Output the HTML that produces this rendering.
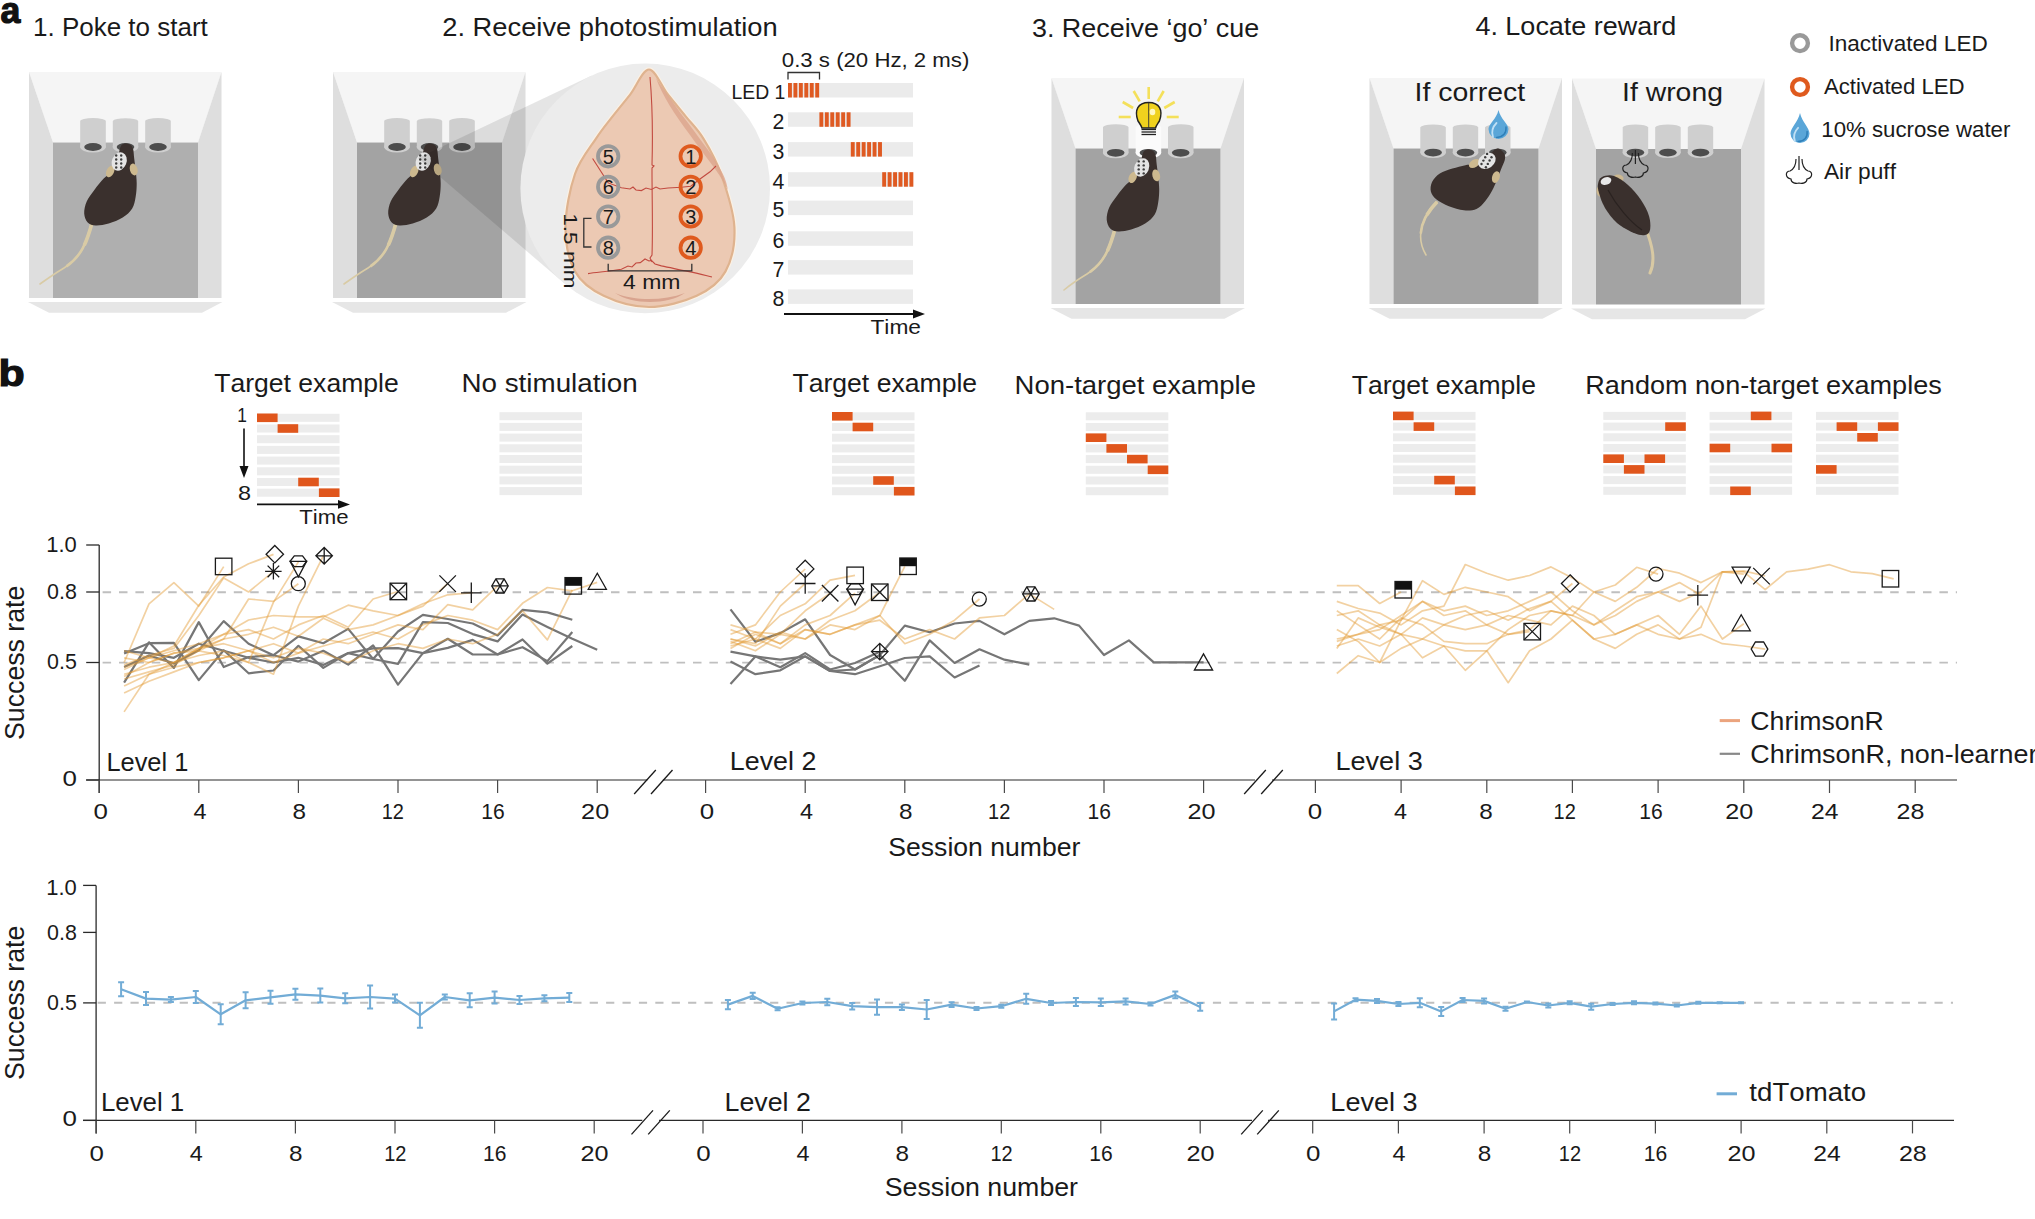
<!DOCTYPE html>
<html><head><meta charset="utf-8"><style>
html,body{margin:0;padding:0;background:#fff;overflow:hidden}
svg{display:block;font-family:"Liberation Sans",sans-serif;font-kerning:none}
</style></head><body>
<svg width="2035" height="1219" viewBox="0 0 2035 1219">
<rect width="2035" height="1219" fill="#fff"/>
<text x="0.46" y="22.60" font-size="36.00" font-weight="bold" fill="#111" textLength="19.82" lengthAdjust="spacingAndGlyphs" stroke="#111" stroke-width="1.2">a</text>
<text x="33.02" y="36.20" font-size="26.70" fill="#1a1a1a" textLength="174.77" lengthAdjust="spacingAndGlyphs">1. Poke to start</text>
<text x="442.23" y="35.50" font-size="26.70" fill="#1a1a1a" textLength="335.55" lengthAdjust="spacingAndGlyphs">2. Receive photostimulation</text>
<text x="1031.98" y="36.80" font-size="26.70" fill="#1a1a1a" textLength="227.22" lengthAdjust="spacingAndGlyphs">3. Receive ‘go’ cue</text>
<text x="1475.38" y="34.90" font-size="26.70" fill="#1a1a1a" textLength="200.96" lengthAdjust="spacingAndGlyphs">4. Locate reward</text>
<polygon points="29.0,72.0 221.5,72.0 198.0,142.5 53.0,142.5" fill="#f5f5f5"/>
<polygon points="29.0,72.0 53.0,142.5 53.0,298.0 29.0,298.0" fill="#dedede"/>
<polygon points="221.5,72.0 198.0,142.5 198.0,298.0 221.5,298.0" fill="#dedede"/>
<rect x="53.0" y="142.5" width="145.0" height="155.5" fill="#afafaf"/>
<polygon points="28.0,302.0 222.5,302.0 202.0,312.7 49.0,312.7" fill="#e6e6e6"/>
<path d="M80.2 121.0 L80.2 147.0 A12.8 3 0 0 0 105.8 147.0 L105.8 121.0 A12.8 3 0 0 0 80.2 121.0 Z" fill="#cfcfcf"/>
<ellipse cx="93.0" cy="147.0" rx="12.8" ry="5.5" fill="#cfcfcf"/>
<ellipse cx="93.0" cy="147.0" rx="8.8" ry="3.9" fill="#4d4d4d"/>
<path d="M112.8 121.0 L112.8 147.0 A12.8 3 0 0 0 138.2 147.0 L138.2 121.0 A12.8 3 0 0 0 112.8 121.0 Z" fill="#cfcfcf"/>
<ellipse cx="125.5" cy="147.0" rx="12.8" ry="5.5" fill="#cfcfcf"/>
<ellipse cx="125.5" cy="147.0" rx="8.8" ry="3.9" fill="#4d4d4d"/>
<path d="M145.2 121.0 L145.2 147.0 A12.8 3 0 0 0 170.8 147.0 L170.8 121.0 A12.8 3 0 0 0 145.2 121.0 Z" fill="#cfcfcf"/>
<ellipse cx="158.0" cy="147.0" rx="12.8" ry="5.5" fill="#cfcfcf"/>
<ellipse cx="158.0" cy="147.0" rx="8.8" ry="3.9" fill="#4d4d4d"/>
<path d="M92 223 C86 245 80 258 64 268 C54 274 47 279 40 284" fill="none" stroke="#d9cba5" stroke-width="1.6" stroke-linecap="round"/>
<path d="M92 223 C86 245 80 258 64 268 C54 274 47 279 40 284" fill="none" stroke="#d9cba5" stroke-width="2.6" pathLength="100" stroke-dasharray="62 200"/>
<path d="M92 223 C86 245 80 258 64 268 C54 274 47 279 40 284" fill="none" stroke="#d9cba5" stroke-width="3.6" pathLength="100" stroke-dasharray="28 200"/>
<path d="M125.70 143.50 C127.20 143.50 129.45 144.00 130.70 145.00 C131.95 146.00 132.62 147.25 133.20 149.50 C133.78 151.75 133.78 155.00 134.20 158.50 C134.62 162.00 135.28 166.33 135.70 170.50 C136.12 174.67 136.70 179.17 136.70 183.50 C136.70 187.83 136.45 192.33 135.70 196.50 C134.95 200.67 134.37 205.00 132.20 208.50 C130.03 212.00 126.62 215.00 122.70 217.50 C118.78 220.00 113.20 222.17 108.70 223.50 C104.20 224.83 99.20 225.67 95.70 225.50 C92.20 225.33 89.62 224.50 87.70 222.50 C85.78 220.50 84.37 217.00 84.20 213.50 C84.03 210.00 84.95 205.50 86.70 201.50 C88.45 197.50 91.87 193.33 94.70 189.50 C97.53 185.67 100.70 181.67 103.70 178.50 C106.70 175.33 110.37 173.83 112.70 170.50 C115.03 167.17 116.53 162.00 117.70 158.50 C118.87 155.00 119.03 151.75 119.70 149.50 C120.37 147.25 120.70 146.00 121.70 145.00 C122.70 144.00 124.20 143.50 125.70 143.50 Z" fill="#3a302d"/>
<ellipse cx="110.2" cy="171.5" rx="3.8" ry="6" fill="#cdb98f" transform="rotate(25.0 110.2 171.5)"/>
<ellipse cx="133.7" cy="169.5" rx="3.8" ry="6" fill="#cdb98f" transform="rotate(-15.0 133.7 169.5)"/>
<ellipse cx="119.2" cy="161.5" rx="7.3" ry="9.5" fill="#e4e4e4" transform="rotate(22.0 119.2 161.5)"/>
<circle cx="116.2" cy="155.5" r="1.2" fill="#3d3d3d"/>
<circle cx="121.2" cy="155.5" r="1.2" fill="#3d3d3d"/>
<circle cx="116.2" cy="159.5" r="1.2" fill="#3d3d3d"/>
<circle cx="121.2" cy="159.5" r="1.2" fill="#3d3d3d"/>
<circle cx="116.2" cy="163.5" r="1.2" fill="#3d3d3d"/>
<circle cx="121.2" cy="163.5" r="1.2" fill="#3d3d3d"/>
<circle cx="116.2" cy="167.5" r="1.2" fill="#3d3d3d"/>
<circle cx="121.2" cy="167.5" r="1.2" fill="#3d3d3d"/>
<polygon points="333.0,72.0 525.5,72.0 502.0,142.5 357.0,142.5" fill="#f5f5f5"/>
<polygon points="333.0,72.0 357.0,142.5 357.0,298.0 333.0,298.0" fill="#dedede"/>
<polygon points="525.5,72.0 502.0,142.5 502.0,298.0 525.5,298.0" fill="#dedede"/>
<rect x="357.0" y="142.5" width="145.0" height="155.5" fill="#a3a3a3"/>
<polygon points="332.0,302.0 526.5,302.0 506.0,312.7 353.0,312.7" fill="#e6e6e6"/>
<path d="M384.2 121.0 L384.2 147.0 A12.8 3 0 0 0 409.8 147.0 L409.8 121.0 A12.8 3 0 0 0 384.2 121.0 Z" fill="#cfcfcf"/>
<ellipse cx="397.0" cy="147.0" rx="12.8" ry="5.5" fill="#cfcfcf"/>
<ellipse cx="397.0" cy="147.0" rx="8.8" ry="3.9" fill="#4d4d4d"/>
<path d="M416.8 121.0 L416.8 147.0 A12.8 3 0 0 0 442.2 147.0 L442.2 121.0 A12.8 3 0 0 0 416.8 121.0 Z" fill="#cfcfcf"/>
<ellipse cx="429.5" cy="147.0" rx="12.8" ry="5.5" fill="#cfcfcf"/>
<ellipse cx="429.5" cy="147.0" rx="8.8" ry="3.9" fill="#4d4d4d"/>
<path d="M449.2 121.0 L449.2 147.0 A12.8 3 0 0 0 474.8 147.0 L474.8 121.0 A12.8 3 0 0 0 449.2 121.0 Z" fill="#cfcfcf"/>
<ellipse cx="462.0" cy="147.0" rx="12.8" ry="5.5" fill="#cfcfcf"/>
<ellipse cx="462.0" cy="147.0" rx="8.8" ry="3.9" fill="#4d4d4d"/>
<path d="M396 223 C390 245 384 258 368 268 C358 274 351 279 344 284" fill="none" stroke="#d9cba5" stroke-width="1.6" stroke-linecap="round"/>
<path d="M396 223 C390 245 384 258 368 268 C358 274 351 279 344 284" fill="none" stroke="#d9cba5" stroke-width="2.6" pathLength="100" stroke-dasharray="62 200"/>
<path d="M396 223 C390 245 384 258 368 268 C358 274 351 279 344 284" fill="none" stroke="#d9cba5" stroke-width="3.6" pathLength="100" stroke-dasharray="28 200"/>
<path d="M429.70 143.50 C431.20 143.50 433.45 144.00 434.70 145.00 C435.95 146.00 436.62 147.25 437.20 149.50 C437.78 151.75 437.78 155.00 438.20 158.50 C438.62 162.00 439.28 166.33 439.70 170.50 C440.12 174.67 440.70 179.17 440.70 183.50 C440.70 187.83 440.45 192.33 439.70 196.50 C438.95 200.67 438.37 205.00 436.20 208.50 C434.03 212.00 430.62 215.00 426.70 217.50 C422.78 220.00 417.20 222.17 412.70 223.50 C408.20 224.83 403.20 225.67 399.70 225.50 C396.20 225.33 393.62 224.50 391.70 222.50 C389.78 220.50 388.37 217.00 388.20 213.50 C388.03 210.00 388.95 205.50 390.70 201.50 C392.45 197.50 395.87 193.33 398.70 189.50 C401.53 185.67 404.70 181.67 407.70 178.50 C410.70 175.33 414.37 173.83 416.70 170.50 C419.03 167.17 420.53 162.00 421.70 158.50 C422.87 155.00 423.03 151.75 423.70 149.50 C424.37 147.25 424.70 146.00 425.70 145.00 C426.70 144.00 428.20 143.50 429.70 143.50 Z" fill="#3a302d"/>
<ellipse cx="414.2" cy="171.5" rx="3.8" ry="6" fill="#cdb98f" transform="rotate(25.0 414.2 171.5)"/>
<ellipse cx="437.7" cy="169.5" rx="3.8" ry="6" fill="#cdb98f" transform="rotate(-15.0 437.7 169.5)"/>
<ellipse cx="423.2" cy="161.5" rx="7.3" ry="9.5" fill="#e4e4e4" transform="rotate(22.0 423.2 161.5)"/>
<circle cx="420.2" cy="155.5" r="1.2" fill="#3d3d3d"/>
<circle cx="425.2" cy="155.5" r="1.2" fill="#3d3d3d"/>
<circle cx="420.2" cy="159.5" r="1.2" fill="#3d3d3d"/>
<circle cx="425.2" cy="159.5" r="1.2" fill="#3d3d3d"/>
<circle cx="420.2" cy="163.5" r="1.2" fill="#3d3d3d"/>
<circle cx="425.2" cy="163.5" r="1.2" fill="#3d3d3d"/>
<circle cx="420.2" cy="167.5" r="1.2" fill="#3d3d3d"/>
<circle cx="425.2" cy="167.5" r="1.2" fill="#3d3d3d"/>
<polygon points="1051.5,78.0 1244.0,78.0 1220.5,148.5 1075.5,148.5" fill="#f5f5f5"/>
<polygon points="1051.5,78.0 1075.5,148.5 1075.5,304.0 1051.5,304.0" fill="#dedede"/>
<polygon points="1244.0,78.0 1220.5,148.5 1220.5,304.0 1244.0,304.0" fill="#dedede"/>
<rect x="1075.5" y="148.5" width="145.0" height="155.5" fill="#a3a3a3"/>
<polygon points="1050.5,308.0 1245.0,308.0 1224.5,318.7 1071.5,318.7" fill="#e6e6e6"/>
<path d="M1103.0 127.0 L1103.0 152.8 A12.8 3 0 0 0 1128.5 152.8 L1128.5 127.0 A12.8 3 0 0 0 1103.0 127.0 Z" fill="#cfcfcf"/>
<ellipse cx="1115.7" cy="152.8" rx="12.8" ry="5.5" fill="#cfcfcf"/>
<ellipse cx="1115.7" cy="152.8" rx="8.8" ry="3.9" fill="#4d4d4d"/>
<path d="M1135.7 127.0 L1135.7 152.8 A12.8 3 0 0 0 1161.2 152.8 L1161.2 127.0 A12.8 3 0 0 0 1135.7 127.0 Z" fill="#fbfbfb"/>
<ellipse cx="1148.4" cy="152.8" rx="12.8" ry="5.5" fill="#fbfbfb"/>
<ellipse cx="1148.4" cy="152.8" rx="8.8" ry="3.9" fill="#4d4d4d"/>
<path d="M1168.0 127.0 L1168.0 152.8 A12.8 3 0 0 0 1193.5 152.8 L1193.5 127.0 A12.8 3 0 0 0 1168.0 127.0 Z" fill="#cfcfcf"/>
<ellipse cx="1180.7" cy="152.8" rx="12.8" ry="5.5" fill="#cfcfcf"/>
<ellipse cx="1180.7" cy="152.8" rx="8.8" ry="3.9" fill="#4d4d4d"/>
<path d="M1115 229 C1109 251 1103 264 1087 274 C1077 280 1070 285 1064 290" fill="none" stroke="#d9cba5" stroke-width="1.6" stroke-linecap="round"/>
<path d="M1115 229 C1109 251 1103 264 1087 274 C1077 280 1070 285 1064 290" fill="none" stroke="#d9cba5" stroke-width="2.6" pathLength="100" stroke-dasharray="62 200"/>
<path d="M1115 229 C1109 251 1103 264 1087 274 C1077 280 1070 285 1064 290" fill="none" stroke="#d9cba5" stroke-width="3.6" pathLength="100" stroke-dasharray="28 200"/>
<path d="M1148.20 149.40 C1149.70 149.40 1151.95 149.90 1153.20 150.90 C1154.45 151.90 1155.12 153.15 1155.70 155.40 C1156.28 157.65 1156.28 160.90 1156.70 164.40 C1157.12 167.90 1157.78 172.23 1158.20 176.40 C1158.62 180.57 1159.20 185.07 1159.20 189.40 C1159.20 193.73 1158.95 198.23 1158.20 202.40 C1157.45 206.57 1156.87 210.90 1154.70 214.40 C1152.53 217.90 1149.12 220.90 1145.20 223.40 C1141.28 225.90 1135.70 228.07 1131.20 229.40 C1126.70 230.73 1121.70 231.57 1118.20 231.40 C1114.70 231.23 1112.12 230.40 1110.20 228.40 C1108.28 226.40 1106.87 222.90 1106.70 219.40 C1106.53 215.90 1107.45 211.40 1109.20 207.40 C1110.95 203.40 1114.37 199.23 1117.20 195.40 C1120.03 191.57 1123.20 187.57 1126.20 184.40 C1129.20 181.23 1132.87 179.73 1135.20 176.40 C1137.53 173.07 1139.03 167.90 1140.20 164.40 C1141.37 160.90 1141.53 157.65 1142.20 155.40 C1142.87 153.15 1143.20 151.90 1144.20 150.90 C1145.20 149.90 1146.70 149.40 1148.20 149.40 Z" fill="#3a302d"/>
<ellipse cx="1132.7" cy="177.4" rx="3.8" ry="6" fill="#cdb98f" transform="rotate(25.0 1132.7 177.4)"/>
<ellipse cx="1156.2" cy="175.4" rx="3.8" ry="6" fill="#cdb98f" transform="rotate(-15.0 1156.2 175.4)"/>
<ellipse cx="1141.7" cy="167.4" rx="7.3" ry="9.5" fill="#e4e4e4" transform="rotate(22.0 1141.7 167.4)"/>
<circle cx="1138.7" cy="161.4" r="1.2" fill="#3d3d3d"/>
<circle cx="1143.7" cy="161.4" r="1.2" fill="#3d3d3d"/>
<circle cx="1138.7" cy="165.4" r="1.2" fill="#3d3d3d"/>
<circle cx="1143.7" cy="165.4" r="1.2" fill="#3d3d3d"/>
<circle cx="1138.7" cy="169.4" r="1.2" fill="#3d3d3d"/>
<circle cx="1143.7" cy="169.4" r="1.2" fill="#3d3d3d"/>
<circle cx="1138.7" cy="173.4" r="1.2" fill="#3d3d3d"/>
<circle cx="1143.7" cy="173.4" r="1.2" fill="#3d3d3d"/>
<polygon points="1369.5,78.0 1562.0,78.0 1538.5,148.5 1393.5,148.5" fill="#f5f5f5"/>
<polygon points="1369.5,78.0 1393.5,148.5 1393.5,304.0 1369.5,304.0" fill="#dedede"/>
<polygon points="1562.0,78.0 1538.5,148.5 1538.5,304.0 1562.0,304.0" fill="#dedede"/>
<rect x="1393.5" y="148.5" width="145.0" height="155.5" fill="#a3a3a3"/>
<polygon points="1368.5,308.0 1563.0,308.0 1542.5,318.7 1389.5,318.7" fill="#e6e6e6"/>
<path d="M1420.3 127.2 L1420.3 152.6 A12.8 3 0 0 0 1445.8 152.6 L1445.8 127.2 A12.8 3 0 0 0 1420.3 127.2 Z" fill="#cfcfcf"/>
<ellipse cx="1433.1" cy="152.6" rx="12.8" ry="5.5" fill="#cfcfcf"/>
<ellipse cx="1433.1" cy="152.6" rx="8.8" ry="3.9" fill="#4d4d4d"/>
<path d="M1452.8 127.2 L1452.8 152.6 A12.8 3 0 0 0 1478.2 152.6 L1478.2 127.2 A12.8 3 0 0 0 1452.8 127.2 Z" fill="#cfcfcf"/>
<ellipse cx="1465.5" cy="152.6" rx="12.8" ry="5.5" fill="#cfcfcf"/>
<ellipse cx="1465.5" cy="152.6" rx="8.8" ry="3.9" fill="#4d4d4d"/>
<path d="M1485.0 127.2 L1485.0 152.6 A12.8 3 0 0 0 1510.5 152.6 L1510.5 127.2 A12.8 3 0 0 0 1485.0 127.2 Z" fill="#cfcfcf"/>
<ellipse cx="1497.8" cy="152.6" rx="12.8" ry="5.5" fill="#cfcfcf"/>
<ellipse cx="1497.8" cy="152.6" rx="8.8" ry="3.9" fill="#4d4d4d"/>
<path d="M1437 202 C1424 215 1414 235 1426 255" fill="none" stroke="#d9cba5" stroke-width="1.6" stroke-linecap="round"/>
<path d="M1437 202 C1424 215 1414 235 1426 255" fill="none" stroke="#d9cba5" stroke-width="2.6" pathLength="100" stroke-dasharray="62 200"/>
<path d="M1437 202 C1424 215 1414 235 1426 255" fill="none" stroke="#d9cba5" stroke-width="3.6" pathLength="100" stroke-dasharray="28 200"/>
<path d="M1501.00 150.00 C1502.32 150.98 1504.06 152.86 1504.69 154.52 C1505.32 156.18 1505.33 157.66 1504.79 159.94 C1504.26 162.21 1502.75 164.95 1501.48 168.17 C1500.22 171.38 1498.79 175.47 1497.22 179.25 C1495.65 183.03 1494.07 187.19 1492.05 190.84 C1490.04 194.49 1487.73 198.12 1485.13 201.14 C1482.54 204.15 1480.01 207.42 1476.48 208.96 C1472.95 210.49 1468.56 210.79 1463.96 210.34 C1459.36 209.90 1453.46 208.08 1448.89 206.27 C1444.32 204.46 1439.55 201.91 1436.55 199.49 C1433.56 197.07 1431.68 194.68 1430.93 191.75 C1430.18 188.82 1430.56 184.95 1432.04 181.89 C1433.52 178.84 1436.42 175.64 1439.82 173.42 C1443.21 171.19 1448.15 169.91 1452.41 168.53 C1456.68 167.15 1461.32 165.84 1465.42 165.13 C1469.53 164.42 1473.44 165.55 1477.04 164.26 C1480.64 162.97 1484.36 159.60 1487.01 157.42 C1489.66 155.23 1491.32 152.60 1492.95 151.14 C1494.58 149.68 1495.45 148.85 1496.79 148.66 C1498.14 148.47 1499.68 149.02 1501.00 150.00 Z" fill="#3a302d"/>
<ellipse cx="1474.4" cy="163.5" rx="3.8" ry="6" fill="#cdb98f" transform="rotate(58.0 1474.4 163.5)"/>
<ellipse cx="1495.9" cy="177.1" rx="3.8" ry="6" fill="#cdb98f" transform="rotate(18.0 1495.9 177.1)"/>
<ellipse cx="1486.9" cy="160.9" rx="7.3" ry="9.5" fill="#e4e4e4" transform="rotate(55.0 1486.9 160.9)"/>
<circle cx="1487.1" cy="153.9" r="1.2" fill="#3d3d3d"/>
<circle cx="1491.5" cy="157.2" r="1.2" fill="#3d3d3d"/>
<circle cx="1485.2" cy="157.3" r="1.2" fill="#3d3d3d"/>
<circle cx="1489.6" cy="160.5" r="1.2" fill="#3d3d3d"/>
<circle cx="1483.4" cy="160.6" r="1.2" fill="#3d3d3d"/>
<circle cx="1487.8" cy="163.9" r="1.2" fill="#3d3d3d"/>
<circle cx="1481.5" cy="164.0" r="1.2" fill="#3d3d3d"/>
<circle cx="1485.9" cy="167.3" r="1.2" fill="#3d3d3d"/>
<polygon points="1572.0,78.5 1764.5,78.5 1741.0,149.0 1596.0,149.0" fill="#f5f5f5"/>
<polygon points="1572.0,78.5 1596.0,149.0 1596.0,304.5 1572.0,304.5" fill="#dedede"/>
<polygon points="1764.5,78.5 1741.0,149.0 1741.0,304.5 1764.5,304.5" fill="#dedede"/>
<rect x="1596.0" y="149.0" width="145.0" height="155.5" fill="#a3a3a3"/>
<polygon points="1571.0,308.5 1765.5,308.5 1745.0,319.2 1592.0,319.2" fill="#e6e6e6"/>
<path d="M1622.7 127.2 L1622.7 152.6 A12.8 3 0 0 0 1648.2 152.6 L1648.2 127.2 A12.8 3 0 0 0 1622.7 127.2 Z" fill="#cfcfcf"/>
<ellipse cx="1635.4" cy="152.6" rx="12.8" ry="5.5" fill="#cfcfcf"/>
<ellipse cx="1635.4" cy="152.6" rx="8.8" ry="3.9" fill="#4d4d4d"/>
<path d="M1655.2 127.2 L1655.2 152.6 A12.8 3 0 0 0 1680.7 152.6 L1680.7 127.2 A12.8 3 0 0 0 1655.2 127.2 Z" fill="#cfcfcf"/>
<ellipse cx="1667.9" cy="152.6" rx="12.8" ry="5.5" fill="#cfcfcf"/>
<ellipse cx="1667.9" cy="152.6" rx="8.8" ry="3.9" fill="#4d4d4d"/>
<path d="M1687.8 127.2 L1687.8 152.6 A12.8 3 0 0 0 1713.2 152.6 L1713.2 127.2 A12.8 3 0 0 0 1687.8 127.2 Z" fill="#cfcfcf"/>
<ellipse cx="1700.5" cy="152.6" rx="12.8" ry="5.5" fill="#cfcfcf"/>
<ellipse cx="1700.5" cy="152.6" rx="8.8" ry="3.9" fill="#4d4d4d"/>
<path d="M1646 229 C1652 245 1656 260 1650 273" fill="none" stroke="#d8c9a3" stroke-width="3" stroke-linecap="round"/>
<ellipse cx="1600.5" cy="191" rx="4" ry="5.5" fill="#cdb88f"/><ellipse cx="1618" cy="178.5" rx="5.5" ry="4" fill="#cdb88f"/>
<path d="M1602.00 177.00 C1604.67 175.67 1609.67 174.67 1614.00 176.00 C1618.33 177.33 1623.50 181.00 1628.00 185.00 C1632.50 189.00 1637.50 194.83 1641.00 200.00 C1644.50 205.17 1647.50 211.00 1649.00 216.00 C1650.50 221.00 1650.67 226.83 1650.00 230.00 C1649.33 233.17 1647.67 234.50 1645.00 235.00 C1642.33 235.50 1638.67 235.00 1634.00 233.00 C1629.33 231.00 1621.83 227.17 1617.00 223.00 C1612.17 218.83 1608.00 213.00 1605.00 208.00 C1602.00 203.00 1600.17 197.00 1599.00 193.00 C1597.83 189.00 1597.50 186.67 1598.00 184.00 C1598.50 181.33 1599.33 178.33 1602.00 177.00 Z" fill="#3a302d"/>
<path d="M1608 190 C1616 205 1630 222 1642 230" fill="none" stroke="#2a2220" stroke-width="1.2"/>
<ellipse cx="1606" cy="181" rx="5.5" ry="3.8" fill="#e8e8e8" transform="rotate(-20 1606 181)"/>
<polygon points="418.0,158.0 591.7,75.6 564.0,283.1" fill="#000" fill-opacity="0.1"/>
<circle cx="645.2" cy="188.4" r="124.8" fill="#ececec"/>
<path d="M649.00 69.50 C642.77 69.50 636.37 86.48 630.30 94.30 C624.23 102.12 618.32 109.02 612.60 116.40 C606.88 123.78 602.27 129.00 596.00 138.60 C589.73 148.20 580.08 159.27 575.00 174.00 C569.92 188.73 565.50 210.77 565.50 227.00 C565.50 243.23 568.63 259.93 575.00 271.40 C581.37 282.87 591.37 289.87 603.70 295.80 C616.03 301.73 633.50 307.00 649.00 307.00 C664.50 307.00 683.95 301.73 696.70 295.80 C709.45 289.87 719.22 282.87 725.50 271.40 C731.78 259.93 735.15 243.23 734.40 227.00 C733.65 210.77 726.17 188.73 721.00 174.00 C715.83 159.27 709.28 148.20 703.40 138.60 C697.52 129.00 691.65 123.78 685.70 116.40 C679.75 109.02 673.82 102.12 667.70 94.30 C661.58 86.48 655.23 69.50 649.00 69.50 Z" fill="#ecc9b3" stroke="#fbf1e4" stroke-width="4.5"/>
<path d="M649.00 69.50 C642.77 69.50 636.37 86.48 630.30 94.30 C624.23 102.12 618.32 109.02 612.60 116.40 C606.88 123.78 602.27 129.00 596.00 138.60 C589.73 148.20 580.08 159.27 575.00 174.00 C569.92 188.73 565.50 210.77 565.50 227.00 C565.50 243.23 568.63 259.93 575.00 271.40 C581.37 282.87 591.37 289.87 603.70 295.80 C616.03 301.73 633.50 307.00 649.00 307.00 C664.50 307.00 683.95 301.73 696.70 295.80 C709.45 289.87 719.22 282.87 725.50 271.40 C731.78 259.93 735.15 243.23 734.40 227.00 C733.65 210.77 726.17 188.73 721.00 174.00 C715.83 159.27 709.28 148.20 703.40 138.60 C697.52 129.00 691.65 123.78 685.70 116.40 C679.75 109.02 673.82 102.12 667.70 94.30 C661.58 86.48 655.23 69.50 649.00 69.50 Z" fill="#ecc9b3" stroke="#dfb38f" stroke-width="2.2"/>
<path d="M656 78 C670 100 690 125 708 150 C722 170 726 178 728 190 C718 170 700 150 690 135 C675 115 662 95 656 78 Z" fill="#dca58c" opacity="0.8"/>
<path d="M615 293 C635 301 663 301 685 293 C668 305 632 305 615 293 Z" fill="#d9a48f"/>
<path d="M650 77 C652 100 653 130 652 165 L654 166 L652 168 C652 200 653 230 652 255 L650 258 L652 262" fill="none" stroke="#c24a40" stroke-width="1.1"/>
<polyline points="592.6,158.5 600,170 608.2,182.9 621.4,187.7 630,189 633,187 636,190 641.4,190.6 646,188 651.4,189.5 656,187 660,189 668,188 681.2,187.3 690.7,186.2 700,179 710,171.8 716,166" fill="none" stroke="#c24a40" stroke-width="1.1"/>
<path d="M588 273.6 C600 272 612 271 621.4 269.2 L628 266 L632 267 L636 263 L640.3 262.6 L645 259 L649 261 L651.4 260.4 L655 264 L661.4 265.9 C672 268 680 270 687.9 271.4 C697 273 704 275 712 277" fill="none" stroke="#c24a40" stroke-width="1.1"/>
<circle cx="608.2" cy="156.3" r="10.2" fill="none" stroke="#999" stroke-width="3.8"/>
<circle cx="690.7" cy="156.3" r="10.2" fill="none" stroke="#df5a1e" stroke-width="3.8"/>
<text x="608.2" y="163.5" font-size="20" text-anchor="middle" fill="#1a1a1a">5</text>
<text x="690.7" y="163.5" font-size="20" text-anchor="middle" fill="#1a1a1a">1</text>
<circle cx="608.2" cy="186.8" r="10.2" fill="none" stroke="#999" stroke-width="3.8"/>
<circle cx="690.7" cy="186.8" r="10.2" fill="none" stroke="#df5a1e" stroke-width="3.8"/>
<text x="608.2" y="194.0" font-size="20" text-anchor="middle" fill="#1a1a1a">6</text>
<text x="690.7" y="194.0" font-size="20" text-anchor="middle" fill="#1a1a1a">2</text>
<circle cx="608.2" cy="216.5" r="10.2" fill="none" stroke="#999" stroke-width="3.8"/>
<circle cx="690.7" cy="216.5" r="10.2" fill="none" stroke="#df5a1e" stroke-width="3.8"/>
<text x="608.2" y="223.7" font-size="20" text-anchor="middle" fill="#1a1a1a">7</text>
<text x="690.7" y="223.7" font-size="20" text-anchor="middle" fill="#1a1a1a">3</text>
<circle cx="608.2" cy="247.7" r="10.2" fill="none" stroke="#999" stroke-width="3.8"/>
<circle cx="690.7" cy="247.7" r="10.2" fill="none" stroke="#df5a1e" stroke-width="3.8"/>
<text x="608.2" y="254.9" font-size="20" text-anchor="middle" fill="#1a1a1a">8</text>
<text x="690.7" y="254.9" font-size="20" text-anchor="middle" fill="#1a1a1a">4</text>
<path d="M591.5 218.3 H583.8 V247 H591.5" fill="none" stroke="#333" stroke-width="1.3"/>
<g transform="translate(564 215) rotate(90)"><text x="-1.72" y="0.00" font-size="19.00" fill="#1a1a1a" textLength="75.21" lengthAdjust="spacingAndGlyphs">1.5 mm</text></g>
<path d="M608.2 263.7 V270.8 H691.8 V263.7" fill="none" stroke="#333" stroke-width="1.3"/>
<text x="623.07" y="288.50" font-size="20.00" fill="#1a1a1a" textLength="57.44" lengthAdjust="spacingAndGlyphs">4 mm</text>
<text x="781.83" y="67.00" font-size="21.00" fill="#1a1a1a" textLength="187.54" lengthAdjust="spacingAndGlyphs">0.3 s (20 Hz, 2 ms)</text>
<path d="M788 79.5 V72.5 H819.5 V79.5" fill="none" stroke="#333" stroke-width="1.3"/>
<text x="731.41" y="98.60" font-size="21.00" fill="#1a1a1a" textLength="53.94" lengthAdjust="spacingAndGlyphs">LED 1</text>
<rect x="788" y="83.0" width="125" height="14.5" fill="#ebebeb"/>
<rect x="788.00" y="83.0" width="3.9" height="14.5" fill="#df5a22"/>
<rect x="793.45" y="83.0" width="3.9" height="14.5" fill="#df5a22"/>
<rect x="798.90" y="83.0" width="3.9" height="14.5" fill="#df5a22"/>
<rect x="804.35" y="83.0" width="3.9" height="14.5" fill="#df5a22"/>
<rect x="809.80" y="83.0" width="3.9" height="14.5" fill="#df5a22"/>
<rect x="815.25" y="83.0" width="3.9" height="14.5" fill="#df5a22"/>
<rect x="788" y="112.3" width="125" height="14.5" fill="#ebebeb"/>
<text x="784.4" y="128.9" font-size="21.3" text-anchor="end" fill="#1a1a1a">2</text>
<rect x="819.40" y="112.3" width="3.9" height="14.5" fill="#df5a22"/>
<rect x="824.85" y="112.3" width="3.9" height="14.5" fill="#df5a22"/>
<rect x="830.30" y="112.3" width="3.9" height="14.5" fill="#df5a22"/>
<rect x="835.75" y="112.3" width="3.9" height="14.5" fill="#df5a22"/>
<rect x="841.20" y="112.3" width="3.9" height="14.5" fill="#df5a22"/>
<rect x="846.65" y="112.3" width="3.9" height="14.5" fill="#df5a22"/>
<rect x="788" y="142.1" width="125" height="14.5" fill="#ebebeb"/>
<text x="784.4" y="158.6" font-size="21.3" text-anchor="end" fill="#1a1a1a">3</text>
<rect x="850.80" y="142.1" width="3.9" height="14.5" fill="#df5a22"/>
<rect x="856.25" y="142.1" width="3.9" height="14.5" fill="#df5a22"/>
<rect x="861.70" y="142.1" width="3.9" height="14.5" fill="#df5a22"/>
<rect x="867.15" y="142.1" width="3.9" height="14.5" fill="#df5a22"/>
<rect x="872.60" y="142.1" width="3.9" height="14.5" fill="#df5a22"/>
<rect x="878.05" y="142.1" width="3.9" height="14.5" fill="#df5a22"/>
<rect x="788" y="172.2" width="125" height="14.5" fill="#ebebeb"/>
<text x="784.4" y="188.7" font-size="21.3" text-anchor="end" fill="#1a1a1a">4</text>
<rect x="882.20" y="172.2" width="3.9" height="14.5" fill="#df5a22"/>
<rect x="887.65" y="172.2" width="3.9" height="14.5" fill="#df5a22"/>
<rect x="893.10" y="172.2" width="3.9" height="14.5" fill="#df5a22"/>
<rect x="898.55" y="172.2" width="3.9" height="14.5" fill="#df5a22"/>
<rect x="904.00" y="172.2" width="3.9" height="14.5" fill="#df5a22"/>
<rect x="909.45" y="172.2" width="3.9" height="14.5" fill="#df5a22"/>
<rect x="788" y="200.6" width="125" height="14.5" fill="#ebebeb"/>
<text x="784.4" y="217.1" font-size="21.3" text-anchor="end" fill="#1a1a1a">5</text>
<rect x="788" y="231.3" width="125" height="14.5" fill="#ebebeb"/>
<text x="784.4" y="247.9" font-size="21.3" text-anchor="end" fill="#1a1a1a">6</text>
<rect x="788" y="260.1" width="125" height="14.5" fill="#ebebeb"/>
<text x="784.4" y="276.6" font-size="21.3" text-anchor="end" fill="#1a1a1a">7</text>
<rect x="788" y="289.4" width="125" height="14.5" fill="#ebebeb"/>
<text x="784.4" y="306.0" font-size="21.3" text-anchor="end" fill="#1a1a1a">8</text>
<path d="M784 314 H917" stroke="#111" stroke-width="2"/>
<path d="M925 314 L913 309.5 L913 318.5 Z" fill="#111"/>
<text x="870.49" y="334.00" font-size="21.00" fill="#1a1a1a" textLength="50.52" lengthAdjust="spacingAndGlyphs">Time</text>
<line x1="1148.7" y1="99.0" x2="1148.7" y2="87.0" stroke="#f4e05a" stroke-width="2.6"/>
<line x1="1157.7" y1="101.4" x2="1163.7" y2="91.0" stroke="#f4e05a" stroke-width="2.6"/>
<line x1="1164.3" y1="108.0" x2="1174.7" y2="102.0" stroke="#f4e05a" stroke-width="2.6"/>
<line x1="1166.7" y1="117.0" x2="1178.7" y2="117.0" stroke="#f4e05a" stroke-width="2.6"/>
<line x1="1130.7" y1="117.0" x2="1118.7" y2="117.0" stroke="#f4e05a" stroke-width="2.6"/>
<line x1="1133.1" y1="108.0" x2="1122.7" y2="102.0" stroke="#f4e05a" stroke-width="2.6"/>
<line x1="1139.7" y1="101.4" x2="1133.7" y2="91.0" stroke="#f4e05a" stroke-width="2.6"/>
<path d="M1138 121 C1134 110 1138 102.5 1148.7 102.5 C1159.4 102.5 1163.4 110 1159.4 121 C1157.5 124 1156 126 1155.5 128 H1142 C1141.5 126 1140 124 1138 121 Z" fill="#f0d21e" stroke="#222" stroke-width="1.5"/>
<path d="M1148.7 103 V128" stroke="#333" stroke-width="0.9"/>
<ellipse cx="1152.5" cy="112" rx="2.8" ry="3.3" fill="#fff8c0"/>
<line x1="1141.5" y1="129.5" x2="1156" y2="129.5" stroke="#222" stroke-width="1.3"/>
<line x1="1141.5" y1="132.0" x2="1156" y2="132.0" stroke="#222" stroke-width="1.3"/>
<line x1="1141.5" y1="134.5" x2="1156" y2="134.5" stroke="#222" stroke-width="1.3"/>
<path d="M1498.5 110.0 C1496.5 118.7 1488.5 124.5 1488.5 129.0 A10.0 10.0 0 0 0 1508.5 129.0 C1508.5 124.5 1500.5 118.7 1498.5 110.0 Z" fill="#5aa6d8"/>
<path d="M1493.0 137.0 C1491.0 131.0 1493.5 126.0 1496.5 123.0" fill="none" stroke="#bfe0f5" stroke-width="1.8" stroke-linecap="round"/>
<path d="M1496.5 137.5 C1503.5 137.0 1506.5 133.0 1506.0 127.0" fill="none" stroke="#2f7fb8" stroke-width="1.5" stroke-linecap="round"/>
<path d="M1635.4 150.0 V164.0 M1632.4 153.0 C1632.4 160.0 1630.4 163.0 1626.4 165.0 M1638.4 153.0 C1638.4 160.0 1640.4 163.0 1644.4 165.0 M1626.4 165.0 C1621.4 165.0 1621.4 172.0 1627.4 173.0 C1627.4 177.0 1632.4 178.0 1635.4 177.0 C1638.4 178.0 1643.4 177.0 1643.4 173.0 C1649.4 172.0 1649.4 165.0 1644.4 165.0" fill="none" stroke="#222" stroke-width="1.2"/>
<circle cx="1800" cy="43.2" r="7.9" fill="none" stroke="#999" stroke-width="4.4"/>
<text x="1828.42" y="51.00" font-size="21.50" fill="#1a1a1a" textLength="159.36" lengthAdjust="spacingAndGlyphs">Inactivated LED</text>
<circle cx="1800" cy="87" r="7.9" fill="none" stroke="#df5a1e" stroke-width="4.4"/>
<text x="1823.96" y="94.00" font-size="21.50" fill="#1a1a1a" textLength="140.71" lengthAdjust="spacingAndGlyphs">Activated LED</text>
<path d="M1800.0 113.0 C1798.0 122.0 1790.5 128.0 1790.5 133.5 A9.5 9.5 0 0 0 1809.5 133.5 C1809.5 128.0 1802.0 122.0 1800.0 113.0 Z" fill="#5aa6d8"/>
<path d="M1794.8 141.1 C1792.9 135.4 1795.2 130.7 1798.1 127.8" fill="none" stroke="#bfe0f5" stroke-width="1.8" stroke-linecap="round"/>
<path d="M1798.1 141.6 C1804.8 141.1 1807.6 137.3 1807.1 131.6" fill="none" stroke="#2f7fb8" stroke-width="1.5" stroke-linecap="round"/>
<text x="1821.31" y="136.70" font-size="21.50" fill="#1a1a1a" textLength="189.06" lengthAdjust="spacingAndGlyphs">10% sucrose water</text>
<path d="M1799.0 156.0 V170.0 M1796.0 159.0 C1796.0 166.0 1794.0 169.0 1790.0 171.0 M1802.0 159.0 C1802.0 166.0 1804.0 169.0 1808.0 171.0 M1790.0 171.0 C1785.0 171.0 1785.0 178.0 1791.0 179.0 C1791.0 183.0 1796.0 184.0 1799.0 183.0 C1802.0 184.0 1807.0 183.0 1807.0 179.0 C1813.0 178.0 1813.0 171.0 1808.0 171.0" fill="none" stroke="#222" stroke-width="1.2"/>
<text x="1823.96" y="178.50" font-size="21.50" fill="#1a1a1a" textLength="72.01" lengthAdjust="spacingAndGlyphs">Air puff</text>
<text x="1414.58" y="100.50" font-size="25.70" fill="#1a1a1a" textLength="110.63" lengthAdjust="spacingAndGlyphs">If correct</text>
<text x="1622.08" y="100.50" font-size="25.70" fill="#1a1a1a" textLength="100.84" lengthAdjust="spacingAndGlyphs">If wrong</text>
<text x="-1.63" y="385.60" font-size="37.00" font-weight="bold" fill="#111" textLength="26.18" lengthAdjust="spacingAndGlyphs" stroke="#111" stroke-width="1.2">b</text>
<text x="214.20" y="391.80" font-size="26.00" fill="#1a1a1a" textLength="184.58" lengthAdjust="spacingAndGlyphs">Target example</text>
<text x="461.42" y="391.80" font-size="26.00" fill="#1a1a1a" textLength="176.19" lengthAdjust="spacingAndGlyphs">No stimulation</text>
<text x="792.40" y="392.00" font-size="26.00" fill="#1a1a1a" textLength="184.78" lengthAdjust="spacingAndGlyphs">Target example</text>
<text x="1014.54" y="393.80" font-size="26.00" fill="#1a1a1a" textLength="241.48" lengthAdjust="spacingAndGlyphs">Non-target example</text>
<text x="1351.80" y="393.50" font-size="26.00" fill="#1a1a1a" textLength="184.17" lengthAdjust="spacingAndGlyphs">Target example</text>
<text x="1585.28" y="393.50" font-size="26.00" fill="#1a1a1a" textLength="356.50" lengthAdjust="spacingAndGlyphs">Random non-target examples</text>
<rect x="257.0" y="413.8" width="82.5" height="8.0" fill="#ececec"/>
<rect x="257.0" y="424.5" width="82.5" height="8.0" fill="#ececec"/>
<rect x="257.0" y="435.2" width="82.5" height="8.0" fill="#ececec"/>
<rect x="257.0" y="445.9" width="82.5" height="8.0" fill="#ececec"/>
<rect x="257.0" y="456.6" width="82.5" height="8.0" fill="#ececec"/>
<rect x="257.0" y="467.3" width="82.5" height="8.0" fill="#ececec"/>
<rect x="257.0" y="478.0" width="82.5" height="8.0" fill="#ececec"/>
<rect x="257.0" y="488.7" width="82.5" height="8.0" fill="#ececec"/>
<rect x="257.0" y="413.5" width="20.6" height="8.6" fill="#e0561c"/>
<rect x="277.6" y="424.2" width="20.6" height="8.6" fill="#e0561c"/>
<rect x="298.2" y="477.7" width="20.6" height="8.6" fill="#e0561c"/>
<rect x="318.9" y="488.4" width="20.6" height="8.6" fill="#e0561c"/>
<text x="237.17" y="421.80" font-size="21.00" fill="#1a1a1a" textLength="9.67" lengthAdjust="spacingAndGlyphs">1</text>
<text x="237.98" y="500.00" font-size="21.00" fill="#1a1a1a" textLength="13.04" lengthAdjust="spacingAndGlyphs">8</text>
<path d="M244 428.5 V470" stroke="#111" stroke-width="1.6"/><path d="M244 478 L239.5 466 H248.5 Z" fill="#111"/>
<path d="M257 504.4 H342" stroke="#111" stroke-width="1.6"/><path d="M350 504.4 L338 500 V508.8 Z" fill="#111"/>
<text x="299.20" y="523.70" font-size="21.00" fill="#1a1a1a" textLength="49.28" lengthAdjust="spacingAndGlyphs">Time</text>
<rect x="499.5" y="412.2" width="82.5" height="8.0" fill="#ececec"/>
<rect x="499.5" y="422.9" width="82.5" height="8.0" fill="#ececec"/>
<rect x="499.5" y="433.6" width="82.5" height="8.0" fill="#ececec"/>
<rect x="499.5" y="444.3" width="82.5" height="8.0" fill="#ececec"/>
<rect x="499.5" y="455.0" width="82.5" height="8.0" fill="#ececec"/>
<rect x="499.5" y="465.7" width="82.5" height="8.0" fill="#ececec"/>
<rect x="499.5" y="476.4" width="82.5" height="8.0" fill="#ececec"/>
<rect x="499.5" y="487.1" width="82.5" height="8.0" fill="#ececec"/>
<rect x="832.0" y="412.3" width="82.5" height="8.0" fill="#ececec"/>
<rect x="832.0" y="423.0" width="82.5" height="8.0" fill="#ececec"/>
<rect x="832.0" y="433.7" width="82.5" height="8.0" fill="#ececec"/>
<rect x="832.0" y="444.4" width="82.5" height="8.0" fill="#ececec"/>
<rect x="832.0" y="455.1" width="82.5" height="8.0" fill="#ececec"/>
<rect x="832.0" y="465.8" width="82.5" height="8.0" fill="#ececec"/>
<rect x="832.0" y="476.5" width="82.5" height="8.0" fill="#ececec"/>
<rect x="832.0" y="487.2" width="82.5" height="8.0" fill="#ececec"/>
<rect x="832.0" y="412.0" width="20.6" height="8.6" fill="#e0561c"/>
<rect x="852.6" y="422.7" width="20.6" height="8.6" fill="#e0561c"/>
<rect x="873.2" y="476.2" width="20.6" height="8.6" fill="#e0561c"/>
<rect x="893.9" y="486.9" width="20.6" height="8.6" fill="#e0561c"/>
<rect x="1085.8" y="412.3" width="82.5" height="8.0" fill="#ececec"/>
<rect x="1085.8" y="423.0" width="82.5" height="8.0" fill="#ececec"/>
<rect x="1085.8" y="433.7" width="82.5" height="8.0" fill="#ececec"/>
<rect x="1085.8" y="444.4" width="82.5" height="8.0" fill="#ececec"/>
<rect x="1085.8" y="455.1" width="82.5" height="8.0" fill="#ececec"/>
<rect x="1085.8" y="465.8" width="82.5" height="8.0" fill="#ececec"/>
<rect x="1085.8" y="476.5" width="82.5" height="8.0" fill="#ececec"/>
<rect x="1085.8" y="487.2" width="82.5" height="8.0" fill="#ececec"/>
<rect x="1085.8" y="433.4" width="20.6" height="8.6" fill="#e0561c"/>
<rect x="1106.4" y="444.1" width="20.6" height="8.6" fill="#e0561c"/>
<rect x="1127.0" y="454.8" width="20.6" height="8.6" fill="#e0561c"/>
<rect x="1147.7" y="465.5" width="20.6" height="8.6" fill="#e0561c"/>
<rect x="1393.0" y="411.9" width="82.5" height="8.0" fill="#ececec"/>
<rect x="1393.0" y="422.6" width="82.5" height="8.0" fill="#ececec"/>
<rect x="1393.0" y="433.3" width="82.5" height="8.0" fill="#ececec"/>
<rect x="1393.0" y="444.0" width="82.5" height="8.0" fill="#ececec"/>
<rect x="1393.0" y="454.7" width="82.5" height="8.0" fill="#ececec"/>
<rect x="1393.0" y="465.4" width="82.5" height="8.0" fill="#ececec"/>
<rect x="1393.0" y="476.1" width="82.5" height="8.0" fill="#ececec"/>
<rect x="1393.0" y="486.8" width="82.5" height="8.0" fill="#ececec"/>
<rect x="1393.0" y="411.6" width="20.6" height="8.6" fill="#e0561c"/>
<rect x="1413.6" y="422.3" width="20.6" height="8.6" fill="#e0561c"/>
<rect x="1434.2" y="475.8" width="20.6" height="8.6" fill="#e0561c"/>
<rect x="1454.9" y="486.5" width="20.6" height="8.6" fill="#e0561c"/>
<rect x="1603.3" y="411.9" width="82.5" height="8.0" fill="#ececec"/>
<rect x="1603.3" y="422.6" width="82.5" height="8.0" fill="#ececec"/>
<rect x="1603.3" y="433.3" width="82.5" height="8.0" fill="#ececec"/>
<rect x="1603.3" y="444.0" width="82.5" height="8.0" fill="#ececec"/>
<rect x="1603.3" y="454.7" width="82.5" height="8.0" fill="#ececec"/>
<rect x="1603.3" y="465.4" width="82.5" height="8.0" fill="#ececec"/>
<rect x="1603.3" y="476.1" width="82.5" height="8.0" fill="#ececec"/>
<rect x="1603.3" y="486.8" width="82.5" height="8.0" fill="#ececec"/>
<rect x="1665.2" y="422.3" width="20.6" height="8.6" fill="#e0561c"/>
<rect x="1603.3" y="454.4" width="20.6" height="8.6" fill="#e0561c"/>
<rect x="1644.5" y="454.4" width="20.6" height="8.6" fill="#e0561c"/>
<rect x="1623.9" y="465.1" width="20.6" height="8.6" fill="#e0561c"/>
<rect x="1709.6" y="411.9" width="82.5" height="8.0" fill="#ececec"/>
<rect x="1709.6" y="422.6" width="82.5" height="8.0" fill="#ececec"/>
<rect x="1709.6" y="433.3" width="82.5" height="8.0" fill="#ececec"/>
<rect x="1709.6" y="444.0" width="82.5" height="8.0" fill="#ececec"/>
<rect x="1709.6" y="454.7" width="82.5" height="8.0" fill="#ececec"/>
<rect x="1709.6" y="465.4" width="82.5" height="8.0" fill="#ececec"/>
<rect x="1709.6" y="476.1" width="82.5" height="8.0" fill="#ececec"/>
<rect x="1709.6" y="486.8" width="82.5" height="8.0" fill="#ececec"/>
<rect x="1750.8" y="411.6" width="20.6" height="8.6" fill="#e0561c"/>
<rect x="1709.6" y="443.7" width="20.6" height="8.6" fill="#e0561c"/>
<rect x="1771.5" y="443.7" width="20.6" height="8.6" fill="#e0561c"/>
<rect x="1730.2" y="486.5" width="20.6" height="8.6" fill="#e0561c"/>
<rect x="1816.0" y="411.9" width="82.5" height="8.0" fill="#ececec"/>
<rect x="1816.0" y="422.6" width="82.5" height="8.0" fill="#ececec"/>
<rect x="1816.0" y="433.3" width="82.5" height="8.0" fill="#ececec"/>
<rect x="1816.0" y="444.0" width="82.5" height="8.0" fill="#ececec"/>
<rect x="1816.0" y="454.7" width="82.5" height="8.0" fill="#ececec"/>
<rect x="1816.0" y="465.4" width="82.5" height="8.0" fill="#ececec"/>
<rect x="1816.0" y="476.1" width="82.5" height="8.0" fill="#ececec"/>
<rect x="1816.0" y="486.8" width="82.5" height="8.0" fill="#ececec"/>
<rect x="1836.6" y="422.3" width="20.6" height="8.6" fill="#e0561c"/>
<rect x="1877.9" y="422.3" width="20.6" height="8.6" fill="#e0561c"/>
<rect x="1857.2" y="433.0" width="20.6" height="8.6" fill="#e0561c"/>
<rect x="1816.0" y="465.1" width="20.6" height="8.6" fill="#e0561c"/>
<path d="M102.6 592.2 H1957.0" stroke="#bfbfbf" stroke-width="1.9" stroke-dasharray="8.5 7.9"/>
<path d="M102.6 662.6 H1957.0" stroke="#bfbfbf" stroke-width="1.9" stroke-dasharray="8.5 7.9"/>
<path d="M99.2 545.0 V793.0" stroke="#2a2a2a" stroke-width="1.3"/>
<path d="M86.2 545.0 H99.2" stroke="#2a2a2a" stroke-width="1.3"/>
<text x="46.23" y="551.80" font-size="22.00" fill="#1a1a1a" textLength="30.53" lengthAdjust="spacingAndGlyphs">1.0</text>
<path d="M86.2 592.0 H99.2" stroke="#2a2a2a" stroke-width="1.3"/>
<text x="47.06" y="598.50" font-size="22.00" fill="#1a1a1a" textLength="29.77" lengthAdjust="spacingAndGlyphs">0.8</text>
<path d="M86.2 662.5 H99.2" stroke="#2a2a2a" stroke-width="1.3"/>
<text x="47.06" y="668.50" font-size="22.00" fill="#1a1a1a" textLength="29.73" lengthAdjust="spacingAndGlyphs">0.5</text>
<path d="M86.2 780.0 H99.2" stroke="#2a2a2a" stroke-width="1.3"/>
<text x="62.49" y="785.70" font-size="22.00" fill="#1a1a1a" textLength="14.43" lengthAdjust="spacingAndGlyphs">0</text>
<path d="M86.0 780.0 H647.3" stroke="#2a2a2a" stroke-width="1.2"/>
<path d="M662.8 780.0 H1255.0" stroke="#2a2a2a" stroke-width="1.2"/>
<path d="M1272.0 780.0 H1957.0" stroke="#2a2a2a" stroke-width="1.2"/>
<path d="M634.2 794.0 L655.8 770.0" stroke="#1a1a1a" stroke-width="1.3"/>
<path d="M651.0 794.0 L672.5 770.0" stroke="#1a1a1a" stroke-width="1.3"/>
<path d="M1244.2 794.0 L1265.8 770.0" stroke="#1a1a1a" stroke-width="1.3"/>
<path d="M1261.2 794.0 L1282.8 770.0" stroke="#1a1a1a" stroke-width="1.3"/>
<path d="M99.2 780.0 V793.0" stroke="#4a4a4a" stroke-width="1.2"/>
<text x="93.49" y="818.70" font-size="22.00" fill="#1a1a1a" textLength="14.43" lengthAdjust="spacingAndGlyphs">0</text>
<path d="M198.8 780.0 V793.0" stroke="#4a4a4a" stroke-width="1.2"/>
<text x="193.56" y="818.70" font-size="22.00" fill="#1a1a1a" textLength="13.02" lengthAdjust="spacingAndGlyphs">4</text>
<path d="M298.4 780.0 V793.0" stroke="#4a4a4a" stroke-width="1.2"/>
<text x="292.64" y="818.70" font-size="22.00" fill="#1a1a1a" textLength="13.51" lengthAdjust="spacingAndGlyphs">8</text>
<path d="M398.0 780.0 V793.0" stroke="#4a4a4a" stroke-width="1.2"/>
<text x="381.68" y="818.70" font-size="22.00" fill="#1a1a1a" textLength="22.23" lengthAdjust="spacingAndGlyphs">12</text>
<path d="M497.6 780.0 V793.0" stroke="#4a4a4a" stroke-width="1.2"/>
<text x="481.20" y="818.70" font-size="22.00" fill="#1a1a1a" textLength="23.43" lengthAdjust="spacingAndGlyphs">16</text>
<path d="M597.2 780.0 V793.0" stroke="#4a4a4a" stroke-width="1.2"/>
<text x="581.13" y="818.70" font-size="22.00" fill="#1a1a1a" textLength="28.05" lengthAdjust="spacingAndGlyphs">20</text>
<path d="M705.6 780.0 V793.0" stroke="#4a4a4a" stroke-width="1.2"/>
<text x="699.89" y="818.70" font-size="22.00" fill="#1a1a1a" textLength="14.43" lengthAdjust="spacingAndGlyphs">0</text>
<path d="M805.2 780.0 V793.0" stroke="#4a4a4a" stroke-width="1.2"/>
<text x="799.96" y="818.70" font-size="22.00" fill="#1a1a1a" textLength="13.02" lengthAdjust="spacingAndGlyphs">4</text>
<path d="M904.8 780.0 V793.0" stroke="#4a4a4a" stroke-width="1.2"/>
<text x="899.04" y="818.70" font-size="22.00" fill="#1a1a1a" textLength="13.51" lengthAdjust="spacingAndGlyphs">8</text>
<path d="M1004.4 780.0 V793.0" stroke="#4a4a4a" stroke-width="1.2"/>
<text x="988.08" y="818.70" font-size="22.00" fill="#1a1a1a" textLength="22.23" lengthAdjust="spacingAndGlyphs">12</text>
<path d="M1104.0 780.0 V793.0" stroke="#4a4a4a" stroke-width="1.2"/>
<text x="1087.60" y="818.70" font-size="22.00" fill="#1a1a1a" textLength="23.43" lengthAdjust="spacingAndGlyphs">16</text>
<path d="M1203.6 780.0 V793.0" stroke="#4a4a4a" stroke-width="1.2"/>
<text x="1187.53" y="818.70" font-size="22.00" fill="#1a1a1a" textLength="28.05" lengthAdjust="spacingAndGlyphs">20</text>
<path d="M1315.4 780.0 V793.0" stroke="#4a4a4a" stroke-width="1.2"/>
<text x="1307.89" y="818.70" font-size="22.00" fill="#1a1a1a" textLength="14.43" lengthAdjust="spacingAndGlyphs">0</text>
<path d="M1401.1 780.0 V793.0" stroke="#4a4a4a" stroke-width="1.2"/>
<text x="1394.04" y="818.70" font-size="22.00" fill="#1a1a1a" textLength="13.02" lengthAdjust="spacingAndGlyphs">4</text>
<path d="M1486.8 780.0 V793.0" stroke="#4a4a4a" stroke-width="1.2"/>
<text x="1479.20" y="818.70" font-size="22.00" fill="#1a1a1a" textLength="13.51" lengthAdjust="spacingAndGlyphs">8</text>
<path d="M1572.4 780.0 V793.0" stroke="#4a4a4a" stroke-width="1.2"/>
<text x="1553.62" y="818.70" font-size="22.00" fill="#1a1a1a" textLength="22.23" lengthAdjust="spacingAndGlyphs">12</text>
<path d="M1658.1 780.0 V793.0" stroke="#4a4a4a" stroke-width="1.2"/>
<text x="1639.22" y="818.70" font-size="22.00" fill="#1a1a1a" textLength="23.43" lengthAdjust="spacingAndGlyphs">16</text>
<path d="M1743.8 780.0 V793.0" stroke="#4a4a4a" stroke-width="1.2"/>
<text x="1725.23" y="818.70" font-size="22.00" fill="#1a1a1a" textLength="28.05" lengthAdjust="spacingAndGlyphs">20</text>
<path d="M1829.5 780.0 V793.0" stroke="#4a4a4a" stroke-width="1.2"/>
<text x="1810.94" y="818.70" font-size="22.00" fill="#1a1a1a" textLength="27.47" lengthAdjust="spacingAndGlyphs">24</text>
<path d="M1915.2 780.0 V793.0" stroke="#4a4a4a" stroke-width="1.2"/>
<text x="1896.60" y="818.70" font-size="22.00" fill="#1a1a1a" textLength="27.85" lengthAdjust="spacingAndGlyphs">28</text>
<g transform="translate(23.6 738.8) rotate(-90)"><text x="-1.21" y="0.00" font-size="27.00" fill="#1a1a1a" textLength="154.40" lengthAdjust="spacingAndGlyphs">Success rate</text></g>
<text x="106.42" y="770.90" font-size="26.00" fill="#1a1a1a" textLength="81.92" lengthAdjust="spacingAndGlyphs">Level 1</text>
<text x="729.80" y="770.00" font-size="26.00" fill="#1a1a1a" textLength="86.55" lengthAdjust="spacingAndGlyphs">Level 2</text>
<text x="1335.48" y="770.40" font-size="26.00" fill="#1a1a1a" textLength="87.31" lengthAdjust="spacingAndGlyphs">Level 3</text>
<text x="888.29" y="856.00" font-size="26.00" fill="#1a1a1a" textLength="192.15" lengthAdjust="spacingAndGlyphs">Session number</text>
<path d="M1719.7 720.6 H1740" stroke="#eba47e" stroke-width="3"/>
<text x="1750.34" y="729.70" font-size="26.00" fill="#1a1a1a" textLength="133.49" lengthAdjust="spacingAndGlyphs">ChrimsonR</text>
<path d="M1719.7 753.8 H1740" stroke="#888" stroke-width="2.2"/>
<text x="1750.33" y="762.70" font-size="26.00" fill="#1a1a1a" textLength="287.11" lengthAdjust="spacingAndGlyphs">ChrimsonR, non-learner</text>
<polyline points="124.1,682.7 149.0,642.3 173.9,667.9 198.8,622.1 223.7,667.0 248.6,657.1 273.5,655.2 298.4,661.6 323.3,650.8 348.2,664.6 373.1,645.3 398.0,684.6 422.9,653.1 447.8,638.8 472.7,654.5 497.6,654.5 522.5,639.5 547.4,663.7 572.3,646.0" fill="none" stroke="#767676" stroke-width="2.20" stroke-opacity="1.00" stroke-linejoin="round"/>
<polyline points="124.1,653.6 149.0,643.2 173.9,642.8 198.8,680.1 223.7,650.3 248.6,673.3 273.5,670.5 298.4,645.8 323.3,667.9 348.2,653.1 373.1,659.0 398.0,663.9 422.9,622.1 447.8,623.0 472.7,634.1 497.6,641.4 522.5,614.6 547.4,627.0 572.3,638.8 597.2,649.8" fill="none" stroke="#767676" stroke-width="2.20" stroke-opacity="1.00" stroke-linejoin="round"/>
<polyline points="124.1,667.0 149.0,655.5 173.9,663.4 198.8,650.3 223.7,621.1 248.6,643.7 273.5,655.2 298.4,636.4 323.3,643.2 348.2,628.9 373.1,659.0 398.0,631.5 422.9,614.8 447.8,619.0 472.7,623.5 497.6,635.5 522.5,609.9 547.4,612.4 572.3,619.7" fill="none" stroke="#767676" stroke-width="2.20" stroke-opacity="1.00" stroke-linejoin="round"/>
<polyline points="124.1,651.2 149.0,653.1 173.9,657.8 198.8,643.7 223.7,650.8 248.6,657.8 273.5,662.5 298.4,657.8 323.3,664.9 348.2,653.1 373.1,648.4 398.0,648.2 422.9,653.1 447.8,647.9 472.7,639.9 497.6,654.5 522.5,647.2 547.4,661.1 572.3,632.0" fill="none" stroke="#767676" stroke-width="2.20" stroke-opacity="1.00" stroke-linejoin="round"/>
<polyline points="730.5,609.4 755.4,641.8 780.3,633.1 805.2,619.3 830.1,655.0 855.0,669.5 879.9,655.0 904.8,625.6 929.7,632.2 954.6,623.5 979.5,620.9 1004.4,634.3 1029.3,620.9 1054.2,618.3 1079.1,625.6 1104.0,655.0 1128.9,640.4 1153.8,662.3 1178.7,662.3 1203.6,662.3" fill="none" stroke="#767676" stroke-width="2.20" stroke-opacity="1.00" stroke-linejoin="round"/>
<polyline points="730.5,684.1 755.4,656.4 780.3,659.7 805.2,656.4 830.1,671.0 855.0,669.5 879.9,655.0 904.8,680.8 929.7,640.4 954.6,663.0 979.5,649.3 1004.4,659.7 1029.3,664.6" fill="none" stroke="#767676" stroke-width="2.20" stroke-opacity="1.00" stroke-linejoin="round"/>
<polyline points="730.5,661.6 755.4,674.2 780.3,670.3 805.2,656.4 830.1,671.0 855.0,674.2 879.9,666.3 904.8,658.0 929.7,656.4 954.6,677.5 979.5,665.6" fill="none" stroke="#767676" stroke-width="2.20" stroke-opacity="1.00" stroke-linejoin="round"/>
<polyline points="730.5,651.7 755.4,656.4 780.3,667.2 805.2,653.1 830.1,669.5 855.0,663.0 879.9,651.7" fill="none" stroke="#767676" stroke-width="2.20" stroke-opacity="1.00" stroke-linejoin="round"/>
<polyline points="124.1,662.5 149.0,603.8 173.9,582.6 198.8,606.1 223.7,566.6" fill="none" stroke="#e29a35" stroke-width="1.70" stroke-opacity="0.46" stroke-linejoin="round"/>
<polyline points="124.1,669.5 149.0,657.8 173.9,646.0 198.8,605.2 223.7,577.0 248.6,563.8 273.5,554.4" fill="none" stroke="#e29a35" stroke-width="1.70" stroke-opacity="0.46" stroke-linejoin="round"/>
<polyline points="124.1,664.9 149.0,655.5 173.9,648.4 198.8,615.5 223.7,577.9 248.6,592.0 273.5,571.3" fill="none" stroke="#e29a35" stroke-width="1.70" stroke-opacity="0.46" stroke-linejoin="round"/>
<polyline points="124.1,674.2 149.0,667.2 173.9,662.5 198.8,655.5 223.7,650.8 248.6,662.5 273.5,602.1 298.4,561.9" fill="none" stroke="#e29a35" stroke-width="1.70" stroke-opacity="0.46" stroke-linejoin="round"/>
<polyline points="124.1,676.6 149.0,662.5 173.9,653.1 198.8,650.8 223.7,639.0 248.6,599.0 273.5,601.4 298.4,583.8" fill="none" stroke="#e29a35" stroke-width="1.70" stroke-opacity="0.46" stroke-linejoin="round"/>
<polyline points="124.1,679.0 149.0,671.9 173.9,664.9 198.8,650.8 223.7,655.5 248.6,662.5 273.5,674.2 298.4,606.1 323.3,555.8" fill="none" stroke="#e29a35" stroke-width="1.70" stroke-opacity="0.46" stroke-linejoin="round"/>
<polyline points="124.1,667.2 149.0,657.8 173.9,650.8 198.8,643.7 223.7,634.3 248.6,629.6 273.5,639.0 298.4,624.9 323.3,615.5 348.2,627.2 373.1,599.0 398.0,591.5" fill="none" stroke="#e29a35" stroke-width="1.70" stroke-opacity="0.46" stroke-linejoin="round"/>
<polyline points="124.1,686.0 149.0,674.2 173.9,662.5 198.8,648.4 223.7,634.3 248.6,620.0 273.5,615.5 298.4,616.9 323.3,616.9 348.2,605.2 373.1,610.8 398.0,615.5 422.9,606.1 447.8,583.5" fill="none" stroke="#e29a35" stroke-width="1.70" stroke-opacity="0.46" stroke-linejoin="round"/>
<polyline points="124.1,657.8 149.0,662.5 173.9,653.1 198.8,648.4 223.7,639.0 248.6,634.3 273.5,627.2 298.4,636.2 323.3,618.3 348.2,629.6 373.1,624.9 398.0,615.5 422.9,603.8 447.8,594.8 472.7,592.7" fill="none" stroke="#e29a35" stroke-width="1.70" stroke-opacity="0.46" stroke-linejoin="round"/>
<polyline points="124.1,693.0 149.0,681.3 173.9,671.9 198.8,662.5 223.7,657.8 248.6,650.8 273.5,662.5 298.4,653.1 323.3,639.0 348.2,643.7 373.1,634.3 398.0,624.9 422.9,629.6 447.8,604.7 472.7,609.9 497.6,585.9" fill="none" stroke="#e29a35" stroke-width="1.70" stroke-opacity="0.46" stroke-linejoin="round"/>
<polyline points="124.1,650.8 149.0,657.8 173.9,662.5 198.8,648.4 223.7,643.7 248.6,650.8 273.5,657.8 298.4,648.4 323.3,653.1 348.2,662.5 373.1,650.8 398.0,643.7 422.9,648.4 447.8,639.0 472.7,643.7 497.6,634.3 522.5,610.8 547.4,639.9 572.3,589.9" fill="none" stroke="#e29a35" stroke-width="1.70" stroke-opacity="0.46" stroke-linejoin="round"/>
<polyline points="124.1,711.9 149.0,674.2 173.9,667.2 198.8,662.5 223.7,657.8 248.6,650.8 273.5,643.7 298.4,653.1 323.3,646.0 348.2,639.0 373.1,632.0 398.0,639.0 422.9,624.9 447.8,615.5 472.7,620.2 497.6,629.6 522.5,603.3 547.4,587.5 572.3,590.8 597.2,582.4" fill="none" stroke="#e29a35" stroke-width="1.70" stroke-opacity="0.46" stroke-linejoin="round"/>
<polyline points="730.5,634.3 755.4,624.9 780.3,592.0 805.2,569.0" fill="none" stroke="#e29a35" stroke-width="1.70" stroke-opacity="0.46" stroke-linejoin="round"/>
<polyline points="730.5,639.0 755.4,643.7 780.3,606.1 805.2,583.5" fill="none" stroke="#e29a35" stroke-width="1.70" stroke-opacity="0.46" stroke-linejoin="round"/>
<polyline points="730.5,643.7 755.4,632.0 780.3,634.3 805.2,610.8 830.1,593.2" fill="none" stroke="#e29a35" stroke-width="1.70" stroke-opacity="0.46" stroke-linejoin="round"/>
<polyline points="730.5,629.6 755.4,639.0 780.3,615.5 805.2,603.8 830.1,580.2 855.0,575.3" fill="none" stroke="#e29a35" stroke-width="1.70" stroke-opacity="0.46" stroke-linejoin="round"/>
<polyline points="730.5,648.4 755.4,634.3 780.3,643.7 805.2,624.9 830.1,615.5 855.0,593.2" fill="none" stroke="#e29a35" stroke-width="1.70" stroke-opacity="0.46" stroke-linejoin="round"/>
<polyline points="730.5,641.4 755.4,650.8 780.3,634.3 805.2,639.0 830.1,620.2 855.0,610.8 879.9,592.2" fill="none" stroke="#e29a35" stroke-width="1.70" stroke-opacity="0.46" stroke-linejoin="round"/>
<polyline points="730.5,646.0 755.4,639.0 780.3,648.4 805.2,629.6 830.1,634.3 855.0,624.9 879.9,615.5 904.8,566.4" fill="none" stroke="#e29a35" stroke-width="1.70" stroke-opacity="0.46" stroke-linejoin="round"/>
<polyline points="730.5,639.0 755.4,646.0 780.3,632.0 805.2,639.0 830.1,624.9 855.0,629.6 879.9,615.5 904.8,643.7 929.7,634.3 954.6,620.2 979.5,599.0" fill="none" stroke="#e29a35" stroke-width="1.70" stroke-opacity="0.46" stroke-linejoin="round"/>
<polyline points="730.5,624.9 755.4,632.0 780.3,643.7 805.2,629.6 830.1,634.3 855.0,624.9 879.9,620.2 904.8,639.0 929.7,629.6 954.6,639.0 979.5,617.9 1004.4,615.5 1029.3,593.9 1054.2,609.4" fill="none" stroke="#e29a35" stroke-width="1.70" stroke-opacity="0.46" stroke-linejoin="round"/>
<polyline points="1336.8,585.7 1358.2,585.7 1379.7,603.5 1401.1,592.0" fill="none" stroke="#e29a35" stroke-width="1.70" stroke-opacity="0.46" stroke-linejoin="round"/>
<polyline points="1336.8,610.8 1358.2,624.9 1379.7,639.0 1401.1,617.9 1422.5,624.9 1443.9,641.4 1465.3,643.7 1486.8,643.7 1508.2,634.3 1529.6,631.7" fill="none" stroke="#e29a35" stroke-width="1.70" stroke-opacity="0.46" stroke-linejoin="round"/>
<polyline points="1336.8,629.6 1358.2,641.4 1379.7,662.5 1401.1,620.2 1422.5,580.7 1443.9,594.4 1465.3,587.3 1486.8,592.0 1508.2,596.7 1529.6,610.8 1551.0,601.4 1572.4,583.5" fill="none" stroke="#e29a35" stroke-width="1.70" stroke-opacity="0.46" stroke-linejoin="round"/>
<polyline points="1336.8,673.5 1358.2,655.7 1379.7,662.5 1401.1,648.4 1422.5,639.0 1443.9,646.0 1465.3,670.3 1486.8,650.8 1508.2,629.6 1529.6,615.5 1551.0,610.8 1572.4,615.5 1593.9,592.0 1615.3,585.0 1636.7,567.3 1658.1,574.1" fill="none" stroke="#e29a35" stroke-width="1.70" stroke-opacity="0.46" stroke-linejoin="round"/>
<polyline points="1336.8,639.0 1358.2,634.3 1379.7,629.6 1401.1,615.5 1422.5,601.4 1443.9,610.8 1465.3,606.1 1486.8,615.5 1508.2,610.8 1529.6,601.4 1551.0,592.0 1572.4,610.8 1593.9,624.9 1615.3,615.5 1636.7,601.4 1658.1,592.0 1679.5,582.6 1701.0,595.3" fill="none" stroke="#e29a35" stroke-width="1.70" stroke-opacity="0.46" stroke-linejoin="round"/>
<polyline points="1336.8,648.4 1358.2,617.9 1379.7,627.2 1401.1,634.3 1422.5,657.8 1443.9,646.0 1465.3,650.8 1486.8,650.8 1508.2,682.7 1529.6,650.8 1551.0,639.0 1572.4,620.2 1593.9,639.0 1615.3,648.4 1636.7,634.3 1658.1,624.9 1679.5,639.0 1701.0,627.2 1722.4,571.8 1743.8,574.1" fill="none" stroke="#e29a35" stroke-width="1.70" stroke-opacity="0.46" stroke-linejoin="round"/>
<polyline points="1336.8,601.4 1358.2,608.5 1379.7,613.1 1401.1,624.9 1422.5,610.8 1443.9,606.1 1465.3,564.5 1486.8,573.2 1508.2,580.2 1529.6,575.5 1551.0,566.9 1572.4,577.9 1593.9,592.0 1615.3,601.4 1636.7,587.3 1658.1,568.5 1679.5,573.2 1701.0,582.6 1722.4,571.8 1743.8,570.9 1765.2,576.0" fill="none" stroke="#e29a35" stroke-width="1.70" stroke-opacity="0.46" stroke-linejoin="round"/>
<polyline points="1336.8,641.4 1358.2,634.3 1379.7,624.9 1401.1,634.3 1422.5,617.9 1443.9,624.9 1465.3,629.6 1486.8,624.9 1508.2,615.5 1529.6,620.2 1551.0,624.9 1572.4,606.1 1593.9,615.5 1615.3,634.3 1636.7,624.9 1658.1,615.5 1679.5,634.3 1701.0,606.1 1722.4,639.0 1743.8,623.7" fill="none" stroke="#e29a35" stroke-width="1.70" stroke-opacity="0.46" stroke-linejoin="round"/>
<polyline points="1336.8,646.0 1358.2,639.0 1379.7,646.0 1401.1,634.3 1422.5,639.0 1443.9,624.9 1465.3,615.5 1486.8,610.8 1508.2,620.2 1529.6,608.5 1551.0,601.4 1572.4,620.2 1593.9,639.0 1615.3,634.3 1636.7,624.9 1658.1,634.3 1679.5,639.0 1701.0,634.3 1722.4,643.7 1743.8,646.0 1765.2,649.1" fill="none" stroke="#e29a35" stroke-width="1.70" stroke-opacity="0.46" stroke-linejoin="round"/>
<polyline points="1336.8,615.5 1358.2,610.8 1379.7,624.9 1401.1,620.2 1422.5,601.4 1443.9,615.5 1465.3,610.8 1486.8,624.9 1508.2,634.3 1529.6,629.6 1551.0,610.8 1572.4,615.5 1593.9,624.9 1615.3,610.8 1636.7,596.7 1658.1,592.0 1679.5,601.4 1701.0,592.0 1722.4,571.8 1743.8,571.8 1765.2,589.6 1786.6,571.8 1808.1,569.2 1829.5,564.7 1850.9,571.8 1872.3,573.7 1893.7,578.8" fill="none" stroke="#e29a35" stroke-width="1.70" stroke-opacity="0.46" stroke-linejoin="round"/>
<rect x="215.4" y="558.2" width="16.5" height="16.5" fill="none" stroke="#1a1a1a" stroke-width="1.3"/>
<path d="M274.8 545.5 L283.5 554.2 L274.8 562.9 L266.1 554.2 Z" fill="none" stroke="#1a1a1a" stroke-width="1.3"/>
<path d="M273.4 563.1 V579.6 M265.1 571.4 H281.6 M267.6 565.6 L279.2 577.2 M279.2 565.6 L267.6 577.2" fill="none" stroke="#1a1a1a" stroke-width="1.3"/>
<polygon points="306.6,561.3 302.5,566.7 294.3,566.7 290.1,561.3 294.3,555.9 302.5,555.9" fill="none" stroke="#1a1a1a" stroke-width="1.3"/>
<path d="M290.1 561.3 H306.6 L298.4 576.8 Z" fill="none" stroke="#1a1a1a" stroke-width="1.3"/>
<circle cx="298.3" cy="583.7" r="7.0" fill="none" stroke="#1a1a1a" stroke-width="1.3"/>
<path d="M324.2 547.5 L332.4 555.8 L324.2 564.0 L315.9 555.8 Z M324.2 547.5 V564.0 M315.9 555.8 H332.4" fill="none" stroke="#1a1a1a" stroke-width="1.3"/>
<rect x="390.1" y="583.2" width="16.5" height="16.5" fill="none" stroke="#1a1a1a" stroke-width="1.3"/>
<path d="M390.1 583.2 L406.6 599.8 M406.6 583.2 L390.1 599.8" fill="none" stroke="#1a1a1a" stroke-width="1.3"/>
<path d="M439.4 575.4 L455.9 591.9 M455.9 575.4 L439.4 591.9" fill="none" stroke="#1a1a1a" stroke-width="1.3"/>
<path d="M471.3 582.5 V603.1 M461.0 592.8 H481.6" fill="none" stroke="#1a1a1a" stroke-width="1.3"/>
<polygon points="508.2,585.9 504.1,593.0 495.9,593.0 491.8,585.9 495.9,578.8 504.1,578.8" fill="none" stroke="#1a1a1a" stroke-width="1.3"/>
<path d="M495.9 578.8 L504.1 593.0 M504.1 578.8 L495.9 593.0 M491.8 585.9 H508.2" fill="none" stroke="#1a1a1a" stroke-width="1.3"/>
<rect x="565.0" y="577.6" width="16.5" height="8.2" fill="#111"/>
<rect x="565.0" y="577.6" width="16.5" height="16.5" fill="none" stroke="#1a1a1a" stroke-width="1.3"/>
<path d="M597.3 573.2 L606.4 589.3 H588.2 Z" fill="none" stroke="#1a1a1a" stroke-width="1.3"/>
<path d="M805.2 560.2 L813.9 568.9 L805.2 577.6 L796.5 568.9 Z" fill="none" stroke="#1a1a1a" stroke-width="1.3"/>
<path d="M805.2 573.2 V593.8 M794.9 583.5 H815.5" fill="none" stroke="#1a1a1a" stroke-width="1.3"/>
<path d="M821.9 585.0 L838.4 601.5 M838.4 585.0 L821.9 601.5" fill="none" stroke="#1a1a1a" stroke-width="1.3"/>
<rect x="846.9" y="567.1" width="16.5" height="16.5" fill="none" stroke="#1a1a1a" stroke-width="1.3"/>
<polygon points="863.4,589.2 859.2,594.6 851.0,594.6 846.9,589.2 851.0,583.8 859.2,583.8" fill="none" stroke="#1a1a1a" stroke-width="1.3"/>
<path d="M846.9 589.2 H863.4 L855.1 604.8 Z" fill="none" stroke="#1a1a1a" stroke-width="1.3"/>
<rect x="871.5" y="584.0" width="16.5" height="16.5" fill="none" stroke="#1a1a1a" stroke-width="1.3"/>
<path d="M871.5 584.0 L888.0 600.5 M888.0 584.0 L871.5 600.5" fill="none" stroke="#1a1a1a" stroke-width="1.3"/>
<rect x="899.8" y="558.0" width="16.5" height="8.2" fill="#111"/>
<rect x="899.8" y="558.0" width="16.5" height="16.5" fill="none" stroke="#1a1a1a" stroke-width="1.3"/>
<circle cx="979.3" cy="599.1" r="7.0" fill="none" stroke="#1a1a1a" stroke-width="1.3"/>
<polygon points="1039.2,593.9 1035.0,601.0 1026.8,601.0 1022.7,593.9 1026.8,586.8 1035.0,586.8" fill="none" stroke="#1a1a1a" stroke-width="1.3"/>
<path d="M1026.8 586.8 L1035.0 601.0 M1035.0 586.8 L1026.8 601.0 M1022.7 593.9 H1039.2" fill="none" stroke="#1a1a1a" stroke-width="1.3"/>
<path d="M879.8 643.4 L888.0 651.6 L879.8 659.9 L871.5 651.6 Z M879.8 643.4 V659.9 M871.5 651.6 H888.0" fill="none" stroke="#1a1a1a" stroke-width="1.3"/>
<path d="M1203.5 653.9 L1212.6 670.0 H1194.4 Z" fill="none" stroke="#1a1a1a" stroke-width="1.3"/>
<rect x="1395.0" y="581.5" width="16.5" height="8.2" fill="#111"/>
<rect x="1395.0" y="581.5" width="16.5" height="16.5" fill="none" stroke="#1a1a1a" stroke-width="1.3"/>
<rect x="1524.0" y="623.4" width="16.5" height="16.5" fill="none" stroke="#1a1a1a" stroke-width="1.3"/>
<path d="M1524.0 623.4 L1540.5 639.9 M1540.5 623.4 L1524.0 639.9" fill="none" stroke="#1a1a1a" stroke-width="1.3"/>
<path d="M1570.1 574.8 L1578.8 583.5 L1570.1 592.2 L1561.4 583.5 Z" fill="none" stroke="#1a1a1a" stroke-width="1.3"/>
<circle cx="1656.0" cy="574.1" r="7.0" fill="none" stroke="#1a1a1a" stroke-width="1.3"/>
<path d="M1697.8 584.9 V605.5 M1687.5 595.2 H1708.1" fill="none" stroke="#1a1a1a" stroke-width="1.3"/>
<path d="M1741.2 583.2 L1750.3 567.1 H1732.1 Z" fill="none" stroke="#1a1a1a" stroke-width="1.3"/>
<path d="M1753.2 567.9 L1769.8 584.4 M1769.8 567.9 L1753.2 584.4" fill="none" stroke="#1a1a1a" stroke-width="1.3"/>
<path d="M1741.2 614.7 L1750.3 630.8 H1732.1 Z" fill="none" stroke="#1a1a1a" stroke-width="1.3"/>
<polygon points="1767.8,649.1 1763.6,656.2 1755.4,656.2 1751.2,649.1 1755.4,642.0 1763.6,642.0" fill="none" stroke="#1a1a1a" stroke-width="1.3"/>
<rect x="1882.2" y="570.5" width="16.5" height="16.5" fill="none" stroke="#1a1a1a" stroke-width="1.3"/>
<path d="M97.7 1002.8 H1953.0" stroke="#bfbfbf" stroke-width="1.9" stroke-dasharray="8.2 8.2"/>
<path d="M96.1 885.4 V1133.4" stroke="#2a2a2a" stroke-width="1.3"/>
<path d="M83.1 885.4 H96.1" stroke="#2a2a2a" stroke-width="1.3"/>
<text x="46.23" y="894.80" font-size="22.00" fill="#1a1a1a" textLength="30.53" lengthAdjust="spacingAndGlyphs">1.0</text>
<path d="M83.1 932.4 H96.1" stroke="#2a2a2a" stroke-width="1.3"/>
<text x="47.06" y="940.20" font-size="22.00" fill="#1a1a1a" textLength="29.77" lengthAdjust="spacingAndGlyphs">0.8</text>
<path d="M83.1 1002.9 H96.1" stroke="#2a2a2a" stroke-width="1.3"/>
<text x="47.06" y="1010.30" font-size="22.00" fill="#1a1a1a" textLength="29.73" lengthAdjust="spacingAndGlyphs">0.5</text>
<path d="M83.1 1120.4 H96.1" stroke="#2a2a2a" stroke-width="1.3"/>
<text x="62.49" y="1125.60" font-size="22.00" fill="#1a1a1a" textLength="14.43" lengthAdjust="spacingAndGlyphs">0</text>
<path d="M83.0 1120.4 H642.3" stroke="#2a2a2a" stroke-width="1.2"/>
<path d="M659.0 1120.4 H1252.0" stroke="#2a2a2a" stroke-width="1.2"/>
<path d="M1268.0 1120.4 H1954.0" stroke="#2a2a2a" stroke-width="1.2"/>
<path d="M631.5 1134.4 L653.0 1110.4" stroke="#1a1a1a" stroke-width="1.3"/>
<path d="M648.2 1134.4 L669.8 1110.4" stroke="#1a1a1a" stroke-width="1.3"/>
<path d="M1241.2 1134.4 L1262.8 1110.4" stroke="#1a1a1a" stroke-width="1.3"/>
<path d="M1257.2 1134.4 L1278.8 1110.4" stroke="#1a1a1a" stroke-width="1.3"/>
<path d="M96.2 1120.4 V1133.4" stroke="#4a4a4a" stroke-width="1.2"/>
<text x="89.49" y="1160.70" font-size="22.00" fill="#1a1a1a" textLength="14.43" lengthAdjust="spacingAndGlyphs">0</text>
<path d="M195.8 1120.4 V1133.4" stroke="#4a4a4a" stroke-width="1.2"/>
<text x="189.86" y="1160.70" font-size="22.00" fill="#1a1a1a" textLength="13.02" lengthAdjust="spacingAndGlyphs">4</text>
<path d="M295.4 1120.4 V1133.4" stroke="#4a4a4a" stroke-width="1.2"/>
<text x="289.14" y="1160.70" font-size="22.00" fill="#1a1a1a" textLength="13.51" lengthAdjust="spacingAndGlyphs">8</text>
<path d="M395.0 1120.4 V1133.4" stroke="#4a4a4a" stroke-width="1.2"/>
<text x="384.13" y="1160.70" font-size="22.00" fill="#1a1a1a" textLength="22.23" lengthAdjust="spacingAndGlyphs">12</text>
<path d="M494.6 1120.4 V1133.4" stroke="#4a4a4a" stroke-width="1.2"/>
<text x="483.05" y="1160.70" font-size="22.00" fill="#1a1a1a" textLength="23.43" lengthAdjust="spacingAndGlyphs">16</text>
<path d="M594.2 1120.4 V1133.4" stroke="#4a4a4a" stroke-width="1.2"/>
<text x="580.53" y="1160.70" font-size="22.00" fill="#1a1a1a" textLength="28.05" lengthAdjust="spacingAndGlyphs">20</text>
<path d="M703.0 1120.4 V1133.4" stroke="#4a4a4a" stroke-width="1.2"/>
<text x="696.29" y="1160.70" font-size="22.00" fill="#1a1a1a" textLength="14.43" lengthAdjust="spacingAndGlyphs">0</text>
<path d="M802.4 1120.4 V1133.4" stroke="#4a4a4a" stroke-width="1.2"/>
<text x="796.50" y="1160.70" font-size="22.00" fill="#1a1a1a" textLength="13.02" lengthAdjust="spacingAndGlyphs">4</text>
<path d="M901.9 1120.4 V1133.4" stroke="#4a4a4a" stroke-width="1.2"/>
<text x="895.62" y="1160.70" font-size="22.00" fill="#1a1a1a" textLength="13.51" lengthAdjust="spacingAndGlyphs">8</text>
<path d="M1001.3 1120.4 V1133.4" stroke="#4a4a4a" stroke-width="1.2"/>
<text x="990.45" y="1160.70" font-size="22.00" fill="#1a1a1a" textLength="22.23" lengthAdjust="spacingAndGlyphs">12</text>
<path d="M1100.8 1120.4 V1133.4" stroke="#4a4a4a" stroke-width="1.2"/>
<text x="1089.21" y="1160.70" font-size="22.00" fill="#1a1a1a" textLength="23.43" lengthAdjust="spacingAndGlyphs">16</text>
<path d="M1200.2 1120.4 V1133.4" stroke="#4a4a4a" stroke-width="1.2"/>
<text x="1186.53" y="1160.70" font-size="22.00" fill="#1a1a1a" textLength="28.05" lengthAdjust="spacingAndGlyphs">20</text>
<path d="M1312.7 1120.4 V1133.4" stroke="#4a4a4a" stroke-width="1.2"/>
<text x="1305.99" y="1160.70" font-size="22.00" fill="#1a1a1a" textLength="14.43" lengthAdjust="spacingAndGlyphs">0</text>
<path d="M1398.4 1120.4 V1133.4" stroke="#4a4a4a" stroke-width="1.2"/>
<text x="1392.44" y="1160.70" font-size="22.00" fill="#1a1a1a" textLength="13.02" lengthAdjust="spacingAndGlyphs">4</text>
<path d="M1484.1 1120.4 V1133.4" stroke="#4a4a4a" stroke-width="1.2"/>
<text x="1477.80" y="1160.70" font-size="22.00" fill="#1a1a1a" textLength="13.51" lengthAdjust="spacingAndGlyphs">8</text>
<path d="M1569.7 1120.4 V1133.4" stroke="#4a4a4a" stroke-width="1.2"/>
<text x="1558.87" y="1160.70" font-size="22.00" fill="#1a1a1a" textLength="22.23" lengthAdjust="spacingAndGlyphs">12</text>
<path d="M1655.4 1120.4 V1133.4" stroke="#4a4a4a" stroke-width="1.2"/>
<text x="1643.87" y="1160.70" font-size="22.00" fill="#1a1a1a" textLength="23.43" lengthAdjust="spacingAndGlyphs">16</text>
<path d="M1741.1 1120.4 V1133.4" stroke="#4a4a4a" stroke-width="1.2"/>
<text x="1727.43" y="1160.70" font-size="22.00" fill="#1a1a1a" textLength="28.05" lengthAdjust="spacingAndGlyphs">20</text>
<path d="M1826.8 1120.4 V1133.4" stroke="#4a4a4a" stroke-width="1.2"/>
<text x="1813.29" y="1160.70" font-size="22.00" fill="#1a1a1a" textLength="27.47" lengthAdjust="spacingAndGlyphs">24</text>
<path d="M1912.5 1120.4 V1133.4" stroke="#4a4a4a" stroke-width="1.2"/>
<text x="1898.95" y="1160.70" font-size="22.00" fill="#1a1a1a" textLength="27.85" lengthAdjust="spacingAndGlyphs">28</text>
<g transform="translate(23.6 1078.8) rotate(-90)"><text x="-1.21" y="0.00" font-size="27.00" fill="#1a1a1a" textLength="154.40" lengthAdjust="spacingAndGlyphs">Success rate</text></g>
<text x="100.88" y="1111.30" font-size="26.00" fill="#1a1a1a" textLength="83.38" lengthAdjust="spacingAndGlyphs">Level 1</text>
<text x="724.50" y="1111.20" font-size="26.00" fill="#1a1a1a" textLength="86.34" lengthAdjust="spacingAndGlyphs">Level 2</text>
<text x="1330.38" y="1111.30" font-size="26.00" fill="#1a1a1a" textLength="87.31" lengthAdjust="spacingAndGlyphs">Level 3</text>
<text x="884.79" y="1196.00" font-size="26.00" fill="#1a1a1a" textLength="193.26" lengthAdjust="spacingAndGlyphs">Session number</text>
<path d="M1716.6 1093.8 H1737" stroke="#72acd6" stroke-width="3"/>
<text x="1749.38" y="1100.50" font-size="26.00" fill="#1a1a1a" textLength="116.78" lengthAdjust="spacingAndGlyphs">tdTomato</text>
<polyline points="121.1,989.3 146.0,998.6 170.9,999.6 195.8,997.0 220.7,1014.3 245.6,1000.3 270.5,997.3 295.4,994.3 320.3,995.6 345.2,998.3 370.1,997.0 395.0,998.6 419.9,1015.3 444.8,997.0 469.7,1000.3 494.6,997.6 519.5,1000.0 544.4,998.3 569.3,997.6" fill="none" stroke="#72acd6" stroke-width="2.2" stroke-linejoin="round"/>
<path d="M121.1 982.3 V996.3 M118.1 982.3 H124.1 M118.1 996.3 H124.1" stroke="#72acd6" stroke-width="2"/>
<path d="M146.0 992.1 V1005.1 M143.0 992.1 H149.0 M143.0 1005.1 H149.0" stroke="#72acd6" stroke-width="2"/>
<path d="M170.9 997.1 V1002.1 M167.9 997.1 H173.9 M167.9 1002.1 H173.9" stroke="#72acd6" stroke-width="2"/>
<path d="M195.8 991.0 V1003.0 M192.8 991.0 H198.8 M192.8 1003.0 H198.8" stroke="#72acd6" stroke-width="2"/>
<path d="M220.7 1004.3 V1024.3 M217.7 1004.3 H223.7 M217.7 1024.3 H223.7" stroke="#72acd6" stroke-width="2"/>
<path d="M245.6 992.3 V1008.3 M242.6 992.3 H248.6 M242.6 1008.3 H248.6" stroke="#72acd6" stroke-width="2"/>
<path d="M270.5 990.8 V1003.8 M267.5 990.8 H273.5 M267.5 1003.8 H273.5" stroke="#72acd6" stroke-width="2"/>
<path d="M295.4 988.8 V999.8 M292.4 988.8 H298.4 M292.4 999.8 H298.4" stroke="#72acd6" stroke-width="2"/>
<path d="M320.3 988.6 V1002.6 M317.3 988.6 H323.3 M317.3 1002.6 H323.3" stroke="#72acd6" stroke-width="2"/>
<path d="M345.2 993.3 V1003.3 M342.2 993.3 H348.2 M342.2 1003.3 H348.2" stroke="#72acd6" stroke-width="2"/>
<path d="M370.1 985.5 V1008.5 M367.1 985.5 H373.1 M367.1 1008.5 H373.1" stroke="#72acd6" stroke-width="2"/>
<path d="M395.0 994.6 V1002.6 M392.0 994.6 H398.0 M392.0 1002.6 H398.0" stroke="#72acd6" stroke-width="2"/>
<path d="M419.9 1002.8 V1027.8 M416.9 1002.8 H422.9 M416.9 1027.8 H422.9" stroke="#72acd6" stroke-width="2"/>
<path d="M444.8 994.5 V999.5 M441.8 994.5 H447.8 M441.8 999.5 H447.8" stroke="#72acd6" stroke-width="2"/>
<path d="M469.7 993.3 V1007.3 M466.7 993.3 H472.7 M466.7 1007.3 H472.7" stroke="#72acd6" stroke-width="2"/>
<path d="M494.6 991.6 V1003.6 M491.6 991.6 H497.6 M491.6 1003.6 H497.6" stroke="#72acd6" stroke-width="2"/>
<path d="M519.5 996.0 V1004.0 M516.5 996.0 H522.5 M516.5 1004.0 H522.5" stroke="#72acd6" stroke-width="2"/>
<path d="M544.4 995.3 V1001.3 M541.4 995.3 H547.4 M541.4 1001.3 H547.4" stroke="#72acd6" stroke-width="2"/>
<path d="M569.3 993.1 V1002.1 M566.3 993.1 H572.3 M566.3 1002.1 H572.3" stroke="#72acd6" stroke-width="2"/>
<polyline points="727.9,1004.6 752.7,995.9 777.6,1008.8 802.4,1003.0 827.3,1002.0 852.2,1006.2 877.0,1007.2 901.9,1007.2 926.7,1009.5 951.6,1004.6 976.5,1008.5 1001.3,1006.2 1026.2,998.8 1051.0,1003.0 1075.9,1002.0 1100.8,1002.3 1125.6,1001.4 1150.5,1004.0 1175.3,994.9 1200.2,1006.9" fill="none" stroke="#72acd6" stroke-width="2.2" stroke-linejoin="round"/>
<path d="M727.9 1000.0 V1009.2 M724.9 1000.0 H730.9 M724.9 1009.2 H730.9" stroke="#72acd6" stroke-width="2"/>
<path d="M752.7 992.7 V999.1 M749.7 992.7 H755.7 M749.7 999.1 H755.7" stroke="#72acd6" stroke-width="2"/>
<path d="M777.6 1007.3 V1010.3 M774.6 1007.3 H780.6 M774.6 1010.3 H780.6" stroke="#72acd6" stroke-width="2"/>
<path d="M802.4 1001.5 V1004.5 M799.4 1001.5 H805.4 M799.4 1004.5 H805.4" stroke="#72acd6" stroke-width="2"/>
<path d="M827.3 998.8 V1005.2 M824.3 998.8 H830.3 M824.3 1005.2 H830.3" stroke="#72acd6" stroke-width="2"/>
<path d="M852.2 1003.0 V1009.4 M849.2 1003.0 H855.2 M849.2 1009.4 H855.2" stroke="#72acd6" stroke-width="2"/>
<path d="M877.0 999.6 V1014.8 M874.0 999.6 H880.0 M874.0 1014.8 H880.0" stroke="#72acd6" stroke-width="2"/>
<path d="M901.9 1004.4 V1010.0 M898.9 1004.4 H904.9 M898.9 1010.0 H904.9" stroke="#72acd6" stroke-width="2"/>
<path d="M926.7 1000.1 V1018.9 M923.7 1000.1 H929.7 M923.7 1018.9 H929.7" stroke="#72acd6" stroke-width="2"/>
<path d="M951.6 1002.2 V1007.0 M948.6 1002.2 H954.6 M948.6 1007.0 H954.6" stroke="#72acd6" stroke-width="2"/>
<path d="M976.5 1007.0 V1010.0 M973.5 1007.0 H979.5 M973.5 1010.0 H979.5" stroke="#72acd6" stroke-width="2"/>
<path d="M1001.3 1004.7 V1007.7 M998.3 1004.7 H1004.3 M998.3 1007.7 H1004.3" stroke="#72acd6" stroke-width="2"/>
<path d="M1026.2 993.8 V1003.8 M1023.2 993.8 H1029.2 M1023.2 1003.8 H1029.2" stroke="#72acd6" stroke-width="2"/>
<path d="M1051.0 1001.0 V1005.0 M1048.0 1001.0 H1054.0 M1048.0 1005.0 H1054.0" stroke="#72acd6" stroke-width="2"/>
<path d="M1075.9 998.0 V1006.0 M1072.9 998.0 H1078.9 M1072.9 1006.0 H1078.9" stroke="#72acd6" stroke-width="2"/>
<path d="M1100.8 998.6 V1006.0 M1097.8 998.6 H1103.8 M1097.8 1006.0 H1103.8" stroke="#72acd6" stroke-width="2"/>
<path d="M1125.6 998.4 V1004.4 M1122.6 998.4 H1128.6 M1122.6 1004.4 H1128.6" stroke="#72acd6" stroke-width="2"/>
<path d="M1150.5 1002.5 V1005.5 M1147.5 1002.5 H1153.5 M1147.5 1005.5 H1153.5" stroke="#72acd6" stroke-width="2"/>
<path d="M1175.3 991.5 V998.3 M1172.3 991.5 H1178.3 M1172.3 998.3 H1178.3" stroke="#72acd6" stroke-width="2"/>
<path d="M1200.2 1003.1 V1010.7 M1197.2 1003.1 H1203.2 M1197.2 1010.7 H1203.2" stroke="#72acd6" stroke-width="2"/>
<polyline points="1334.1,1011.4 1355.5,999.7 1377.0,1000.9 1398.4,1004.0 1419.8,1002.8 1441.2,1011.4 1462.6,1000.0 1484.1,1000.9 1505.5,1008.7 1526.9,1002.0 1548.3,1005.5 1569.7,1002.8 1591.2,1006.7 1612.6,1004.0 1634.0,1002.8 1655.4,1003.6 1676.8,1005.5 1698.3,1002.8 1719.7,1002.8 1741.1,1002.8" fill="none" stroke="#72acd6" stroke-width="2.2" stroke-linejoin="round"/>
<path d="M1334.1 1003.4 V1019.4 M1331.1 1003.4 H1337.1 M1331.1 1019.4 H1337.1" stroke="#72acd6" stroke-width="2"/>
<path d="M1355.5 998.2 V1001.2 M1352.5 998.2 H1358.5 M1352.5 1001.2 H1358.5" stroke="#72acd6" stroke-width="2"/>
<path d="M1377.0 998.9 V1002.9 M1374.0 998.9 H1380.0 M1374.0 1002.9 H1380.0" stroke="#72acd6" stroke-width="2"/>
<path d="M1398.4 1002.0 V1006.0 M1395.4 1002.0 H1401.4 M1395.4 1006.0 H1401.4" stroke="#72acd6" stroke-width="2"/>
<path d="M1419.8 998.3 V1007.3 M1416.8 998.3 H1422.8 M1416.8 1007.3 H1422.8" stroke="#72acd6" stroke-width="2"/>
<path d="M1441.2 1006.9 V1015.9 M1438.2 1006.9 H1444.2 M1438.2 1015.9 H1444.2" stroke="#72acd6" stroke-width="2"/>
<path d="M1462.6 998.0 V1002.0 M1459.6 998.0 H1465.6 M1459.6 1002.0 H1465.6" stroke="#72acd6" stroke-width="2"/>
<path d="M1484.1 998.4 V1003.4 M1481.1 998.4 H1487.1 M1481.1 1003.4 H1487.1" stroke="#72acd6" stroke-width="2"/>
<path d="M1505.5 1006.7 V1010.7 M1502.5 1006.7 H1508.5 M1502.5 1010.7 H1508.5" stroke="#72acd6" stroke-width="2"/>
<path d="M1526.9 1001.5 V1002.5 M1523.9 1001.5 H1529.9 M1523.9 1002.5 H1529.9" stroke="#72acd6" stroke-width="2"/>
<path d="M1548.3 1003.5 V1007.5 M1545.3 1003.5 H1551.3 M1545.3 1007.5 H1551.3" stroke="#72acd6" stroke-width="2"/>
<path d="M1569.7 1001.3 V1004.3 M1566.7 1001.3 H1572.7 M1566.7 1004.3 H1572.7" stroke="#72acd6" stroke-width="2"/>
<path d="M1591.2 1003.7 V1009.7 M1588.2 1003.7 H1594.2 M1588.2 1009.7 H1594.2" stroke="#72acd6" stroke-width="2"/>
<path d="M1612.6 1003.0 V1005.0 M1609.6 1003.0 H1615.6 M1609.6 1005.0 H1615.6" stroke="#72acd6" stroke-width="2"/>
<path d="M1634.0 1001.3 V1004.3 M1631.0 1001.3 H1637.0 M1631.0 1004.3 H1637.0" stroke="#72acd6" stroke-width="2"/>
<path d="M1655.4 1002.6 V1004.6 M1652.4 1002.6 H1658.4 M1652.4 1004.6 H1658.4" stroke="#72acd6" stroke-width="2"/>
<path d="M1676.8 1004.5 V1006.5 M1673.8 1004.5 H1679.8 M1673.8 1006.5 H1679.8" stroke="#72acd6" stroke-width="2"/>
<path d="M1698.3 1001.8 V1003.8 M1695.3 1001.8 H1701.3 M1695.3 1003.8 H1701.3" stroke="#72acd6" stroke-width="2"/>
<path d="M1719.7 1002.3 V1003.3 M1716.7 1002.3 H1722.7 M1716.7 1003.3 H1722.7" stroke="#72acd6" stroke-width="2"/>
<path d="M1741.1 1002.3 V1003.3 M1738.1 1002.3 H1744.1 M1738.1 1003.3 H1744.1" stroke="#72acd6" stroke-width="2"/>
</svg></body></html>
